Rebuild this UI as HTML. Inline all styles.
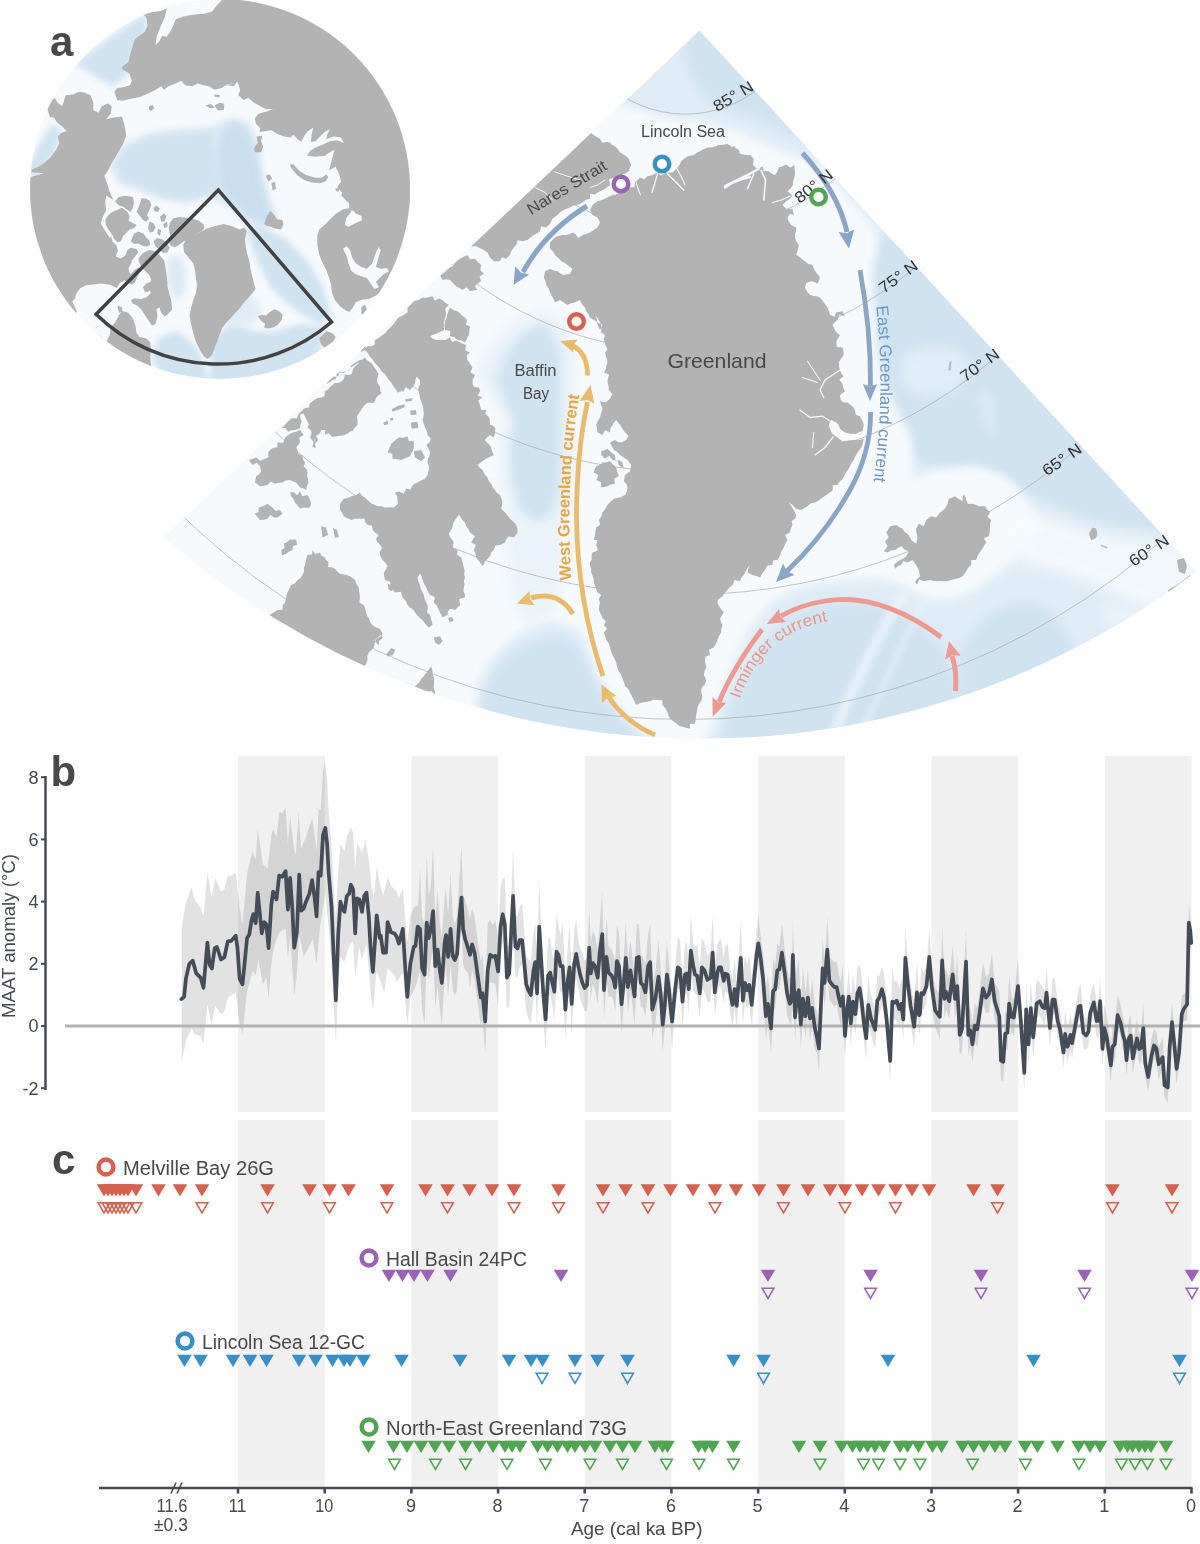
<!DOCTYPE html><html><head><meta charset="utf-8"><title>Figure</title>
<style>html,body{margin:0;padding:0;background:#fff}svg{display:block}text{font-family:"Liberation Sans", sans-serif}</style></head><body>
<svg width="1200" height="1544" viewBox="0 0 1200 1544">
<rect width="1200" height="1544" fill="#fff"/>
<defs>
<clipPath id="fan"><path d="M699.5 30.5 L164 537 A816.3 816.3 0 0 0 1196.3 571.5 Z"/></clipPath>
<clipPath id="circ"><circle cx="220" cy="189" r="190"/></clipPath>
<filter id="b6" x="-20%" y="-20%" width="140%" height="140%"><feGaussianBlur stdDeviation="6"/></filter>
<filter id="b10" x="-20%" y="-20%" width="140%" height="140%"><feGaussianBlur stdDeviation="10"/></filter>
<filter id="b4" x="-20%" y="-20%" width="140%" height="140%"><feGaussianBlur stdDeviation="4"/></filter>
<filter id="b3" x="-20%" y="-20%" width="140%" height="140%"><feGaussianBlur stdDeviation="3"/></filter>
</defs>
<g clip-path="url(#fan)">
<path d="M699.5 30.5 L164 537 A816.3 816.3 0 0 0 1196.3 571.5 Z" fill="#f4f8fc"/>
<path d="M699.5 30.5 L164 537 A816.3 816.3 0 0 0 1196.3 571.5 Z" fill="#dfecf6"/>
<path d="M699.5 0 L850 160 L800 140 L775 126 L750 116 L725 108 L705 98 L692 78 L684 50 L680 30Z" fill="#cfe3f1" filter="url(#b6)" opacity="1"/>
<path d="M905 225 L880 240 L868 252 L865 270 L865 300 L868 335 L875 370 L885 400 L900 430 L912 455 L930 468 L960 470 L990 472 L1015 485 L1040 500 L1070 512 L1100 522 L1140 528 L1175 535 L1250 570 L1250 400 L1000 250Z" fill="#cfe3f1" filter="url(#b4)" opacity="1"/>
<path d="M898 356 L930 344 L962 350 L972 368 L958 392 L925 400 L902 388Z" fill="#eaf3fa" filter="url(#b6)" opacity="0.6"/>
<path d="M975 395 L988 388 L996 402 L996 436 L985 430Z" fill="#eaf3fa" filter="url(#b3)" opacity="0.4"/>
<path d="M480 760 L482 700 L492 672 L512 652 L535 640 L560 636 L580 646 L590 670 L606 702 L632 730 L660 760Z" fill="#cfe3f1" filter="url(#b6)" opacity="1"/>
<path d="M715 770 L728 712 L742 680 L758 652 L780 626 L805 610 L835 602 L870 604 L900 612 L925 630 L945 650 L960 690 L985 720 L900 780Z" fill="#cfe3f1" filter="url(#b6)" opacity="1"/>
<path d="M960 650 L985 618 L1010 604 L1040 604 L1060 624 L1078 655 L1090 690 L1060 720 L1000 740 L960 720Z" fill="#cfe3f1" filter="url(#b6)" opacity="1"/>
<path d="M1090 650 L1120 628 L1150 632 L1172 645 L1135 672 L1100 680Z" fill="#cfe3f1" filter="url(#b6)" opacity="0.7"/>
<path d="M905 592 L872 650 L848 700 L828 750" stroke="#eaf3fa" stroke-width="10" fill="none" filter="url(#b3)" opacity="0.9"/>
<path d="M925 600 L895 660 L872 710 L855 750" stroke="#eaf3fa" stroke-width="6" fill="none" filter="url(#b3)" opacity="0.7"/>
<path d="M560 60 L600 100 L640 110 L660 117 L680 121 L700 121 L720 127 L740 131 L757 141 L787 153 L820 163 L840 188 L860 211 L875 231 L878 246 L873 266 L873 290 L875 320 L878 350 L884 380 L892 400 L902 420 L912 440 L912 460 L912 478 L935 470 L975 466 L1005 476 L1025 498 L1040 520 L1030 548 L1000 572 L975 590 L950 600 L925 598 L905 586 L880 578 L850 580 L820 583 L795 588 L770 603 L750 628 L735 658 L722 693 L712 728 L700 748 L650 740 L625 714 L602 682 L590 652 L580 630 L552 620 L530 626 L510 640 L490 660 L478 682 L473 730 L300 700 L100 540Z" fill="#f6fafd" filter="url(#b4)" opacity="1"/>
<path d="M1015 508 L1060 522 L1100 536 L1140 541 L1175 546 L1230 572 L1230 615 L1170 612 L1130 602 L1100 586 L1060 572 L1020 562Z" fill="#f6fafd" filter="url(#b6)" opacity="0.85"/>
<path d="M1100 600 L1150 610 L1200 600 L1200 640 L1150 660 L1110 640Z" fill="#eaf3fa" filter="url(#b6)" opacity="0.8"/>
<path d="M546.5 308.3 L567.4 325 L575 352.4 L575 392.1 L572.7 428.7 L575 474.4 L570.3 511 L556 532.4 L537 535.4 L513.3 523.2 L500.9 489.7 L499 450 L503.8 419.5 L487.2 392.1 L475.3 373.8 L489.5 346.3 L513.3 321.9Z" fill="#eaf3fa" filter="url(#b6)" opacity="1"/>
<path d="M512 500 L560 500 L566 560 L556 612 L530 628 L512 600 L506 550Z" fill="#eaf3fa" filter="url(#b6)" opacity="1"/>
<path d="M543.3 319.5 L559.2 334.5 L565 359.3 L565 395 L563.3 428 L565 469.3 L561.4 502.3 L550.5 521.5 L536 524.3 L517.9 513.3 L508.5 483 L507 447.3 L510.6 419.8 L498 395 L488.9 378.5 L499.8 353.8 L517.9 331.8Z" fill="#dfecf6" filter="url(#b3)" opacity="1"/>
<path d="M540.9 326 L553.2 340.1 L557.7 363.3 L557.7 396.8 L556.3 427.7 L557.7 466.3 L554.9 497.2 L546.5 515.2 L535.3 517.8 L521.3 507.5 L514 479.2 L512.9 445.7 L515.7 419.9 L505.9 396.8 L498.9 381.3 L507.3 358.1 L521.3 337.5Z" fill="#cfe3f1" filter="url(#b3)" opacity="1"/>
</g>
<g clip-path="url(#fan)" fill="none" stroke="#a6a6a6" stroke-width="0.65">
<circle cx="685.4" cy="-3.7" r="117.8"/>
<circle cx="685.4" cy="-3.7" r="236.1"/>
<circle cx="685.4" cy="-3.7" r="355.3"/>
<circle cx="685.4" cy="-3.7" r="475.9"/>
<circle cx="685.4" cy="-3.7" r="598.4"/>
<circle cx="685.4" cy="-3.7" r="723.2"/>
</g>
<g fill="#b3b3b3" clip-path="url(#fan)"><path d="M600 330 L602.4 325 L597.5 322.5 L593.8 319.9 L590 317.5 L588.4 314.2 L586.3 311.2 L585.1 307.7 L582.5 305 L580 300 L575 302.5 L571.1 303.2 L567.5 305 L563.7 302.6 L560 300 L555 302.5 L553.6 299 L551.7 295.8 L550 292.5 L548.7 288.5 L546.2 285 L545.4 281.1 L543.8 277.5 L545 271.2 L550 268.8 L553.6 270.5 L557.5 271.2 L560.4 273.6 L563.8 275 L570 273.8 L572.5 268.8 L567.5 265 L564.5 262.8 L561.2 261.2 L558.4 257.9 L555 255 L553.1 251.4 L550 248.8 L550 242.5 L552.6 240.1 L555 237.5 L558.6 235.8 L562.5 235 L566 235 L569.4 234.2 L572.5 232.5 L575.6 234.1 L578.2 237.9 L582.5 235 L586.3 233.9 L590 232.5 L593.7 230 L597.5 227.5 L600 222.5 L597.5 217.5 L592.5 215 L590 210 L592.5 205 L597.5 201.2 L601.3 200.3 L605 198.8 L608.7 196.7 L612.5 195 L616.5 194.5 L620 192.5 L625 190 L630 187.5 L634.5 187 L635 182.5 L637.4 179.9 L640 177.5 L644.1 179.3 L647.5 176.2 L652.5 175 L657.5 172.5 L660.8 175.6 L664.2 173.4 L667.5 172.5 L672.5 172.5 L675.1 170.1 L677.5 167.5 L679.8 164.6 L681.2 161.2 L684.3 158.6 L687.5 156.2 L693.8 155 L696.7 152.8 L700 151.2 L703.7 149.2 L707.5 147.5 L711 147.2 L715.1 149.4 L717.5 145 L721.2 147.4 L724.2 144.5 L727.5 143.8 L730.5 147.3 L735 146.2 L736.2 151.2 L739.4 153 L742.5 155 L739.5 152 L736 154.5 L732.8 153.3 L729.5 153.4 L726.2 152.7 L722.9 153.4 L719.8 150.5 L716.3 153 L713.1 152.5 L709.8 152.3 L706.6 151.6 L703.2 152 L700 151.2 L703.5 150.3 L706.5 148.3 L710 147.5 L713.4 146.9 L716.7 145.9 L720 145 L723.3 144.7 L726.7 144.7 L730 145 L732.7 148.9 L737.5 148.8 L741.2 153.8 L745.6 154.9 L750 155 L753.8 158.8 L753 165 L755.5 167.4 L758.8 168.8 L762.5 166.2 L763.8 171 L768.8 171.2 L771.5 173.8 L775 175 L777.4 171.5 L778.8 167.5 L782.6 166.3 L786.2 164.5 L790.2 167.4 L794.5 165 L794.7 169.4 L795 173.8 L794.4 177.5 L793.1 181.1 L793 185 L790.5 188.4 L787.5 191.2 L790.1 193.6 L792.5 196.2 L789.5 198.9 L786.2 201.2 L782.5 205 L786.2 208.8 L792.5 208.8 L793.8 215 L789.8 214.1 L787.5 217.5 L788.7 221.6 L791.2 225 L796.2 227.5 L796.2 230.9 L795 234.1 L795 237.5 L796.3 241.5 L798.8 245 L798.2 248.4 L797.3 251.7 L796.2 255 L799.4 256.8 L802 259.3 L805 261.2 L808.4 263.9 L812.5 265 L814.1 268.9 L816.2 272.5 L820 277.5 L818.9 280.7 L817.5 283.8 L814.5 282.1 L811.2 281.2 L806.5 282.7 L805 287.5 L806.9 291.6 L810 295 L813.3 296 L816.8 296.3 L820 297.5 L823.8 302.5 L827.5 307.5 L828.9 311.2 L830 315 L834.3 316.7 L836.2 312.5 L842.5 311.2 L845 316.2 L839.5 314.6 L837.5 320 L834.8 322.3 L832.5 325 L835 330 L835 330 L836.9 333.1 L840 335 L838.3 338.2 L836.2 341.2 L836.9 346.9 L842.5 347.5 L843.4 351.2 L843.8 355 L841 358.6 L838.8 362.5 L839.1 366.3 L840 370 L841.4 373.4 L843.8 376.2 L839.3 379.4 L842.5 383.8 L843.1 387.7 L845 391.2 L840 395 L840.6 399.4 L842.8 402.2 L847.5 402.5 L850.7 405 L853.8 407.5 L855.2 410.9 L855.8 414.8 L860 416.2 L862.3 420.4 L863.8 425 L862.5 431.2 L859.2 432 L856.2 433.8 L850 433.8 L845 432.5 L840 428.8 L838.9 425.2 L836.2 422.5 L831.2 420 L829.5 422.9 L828.8 426.2 L830.4 429.2 L831.4 432.4 L833.8 435 L836.7 437.1 L839.6 439.2 L842.5 441.2 L846.7 440.8 L850.8 440.2 L855 440 L859.4 439.9 L863.8 438.8 L862.5 445 L860.3 448.9 L857.5 452.5 L855.4 456.2 L853.8 460 L851.6 462.6 L850.2 465.7 L848.8 468.8 L846.7 471.4 L844.8 474.2 L843.8 477.5 L841.6 480 L839 482 L837.5 485 L832.7 485.2 L832.8 490.3 L830 492.5 L826.3 495 L822.5 497.5 L818.9 500.3 L815 502.5 L810.8 503.6 L807.5 506.2 L804.3 508 L801.2 510 L796.2 508.8 L792.5 505 L788.8 502.5 L791.3 506.2 L793.8 510 L796.2 515 L795.4 518.5 L791.6 520.9 L792.5 525 L790.9 528.6 L790 532.5 L785 535 L787.5 540 L785.2 543.5 L783.8 547.5 L781.5 551.1 L780 555 L782.5 552.5 L779.8 556.1 L777.5 560 L773 560.5 L772.5 565 L767.4 565.5 L765 570 L762.3 573.6 L760 577.5 L756.3 576.1 L752.5 575 L747.5 572.5 L748.4 568.6 L750 565 L747.5 568.1 L745.5 571.4 L743.8 575 L741.2 577.7 L740 581.2 L734.7 580 L732.5 585 L729.7 587.2 L727.5 590 L724.8 593 L722.5 596.2 L717.5 600 L717.9 604 L720 607.5 L723.8 612.5 L721.8 615.6 L720 618.8 L721 622 L722.5 625 L721.4 628.7 L721.2 632.5 L719 636 L717.5 640 L715.9 643.9 L713.8 647.5 L708.9 649.8 L710 655 L705.5 656.6 L705 661.2 L706.2 667.5 L704.6 671.1 L703.8 675 L705.4 678 L706.2 681.2 L704.8 684.3 L702.2 686.7 L701.2 690 L701.6 693.8 L702.5 697.5 L701.1 701 L698.9 704 L697.5 707.5 L697 711.3 L696.2 715 L695.7 719.4 L695 723.8 L689.9 723.7 L690 728.8 L685 727.5 L680 726.2 L675 722.5 L670 718.8 L668.6 715.7 L667.5 712.5 L665.5 708.4 L662.5 705 L662.3 700.2 L657.5 700 L653.6 699.8 L650 701.2 L646.3 702 L642.5 702.5 L639.3 703.6 L636.2 705 L633.8 700 L631.8 696.3 L630 692.5 L628.2 688.8 L625 686.2 L624 682.4 L622.5 678.8 L621 674.8 L618.8 671.2 L617.1 667 L616.2 662.5 L614.5 658.7 L612.5 655 L611 651.3 L610 647.5 L608.8 643.4 L606.2 640 L605.3 636.2 L603.8 632.5 L607.2 628.8 L603.8 625 L605.9 620.9 L602.5 618.2 L601.2 615 L598.8 610 L599.1 606.2 L600 602.5 L598.7 599.3 L601.2 595.1 L597.5 592.5 L596.2 589.2 L595 585.8 L593.8 582.5 L593.7 579 L592.6 575.7 L591.2 572.5 L591.1 569.1 L590 565.9 L590 562.5 L591.6 559.4 L591.6 555.8 L592.5 552.5 L597.8 550.5 L596.2 545 L597.5 540 L593.8 540 L595 535 L595.4 531.2 L596.2 527.5 L600.3 524.7 L598.8 520 L601.4 516.6 L602.5 512.5 L605.2 508.9 L607.5 505 L610.4 501.7 L613.8 498.8 L620 497.5 L625 495 L626.9 491.5 L627.5 487.5 L626.4 483.9 L623.8 481.2 L625 475 L630 471.2 L631.2 465 L627.5 460 L623.8 457.5 L620 455 L617.4 451.9 L613.8 450 L611.9 446.3 L610 442.5 L615 440 L617.9 441.9 L621.2 442.5 L626.2 440 L628.5 435.8 L625 432.5 L622.5 428.8 L620 425 L616.2 420 L612.5 425 L610.4 428.5 L610 432.5 L605 430.1 L602.5 435 L597.5 432.5 L597.1 428.7 L596.2 425 L597.8 421.1 L600 417.5 L601.1 413.1 L602.5 408.8 L601.2 405 L600 401.2 L605 402.5 L610 398.8 L612.5 393.9 L608.8 390 L608.6 386.6 L607.8 383.3 L607.5 380 L609.1 374.5 L603.8 372.5 L605.8 369.5 L606.4 365.9 L607.5 362.5 L607 359.1 L605.7 355.9 L605 352.5 L607.6 349.2 L605.5 345.8 L605 342.5 L603.6 339.2 L605 334.9 L601.2 332.5 L601.2 329.1 L601.2 325.7 L600 322.5 L597.9 318.5 L595 315 L596.7 318.6 L597 322.7 L598.3 326.4Z"/><path d="M602.5 462.5 L606.3 462.2 L610 461.2 L613 464.5 L616.2 467.5 L617.2 472 L618.8 476.2 L614.1 478.6 L615 483.8 L611.1 484.4 L607.5 486.2 L601.2 487.5 L601 482.2 L596.2 480 L598.4 475.1 L593.8 472.5 L594.6 469.2 L596.2 466.2 L599.8 465.1Z"/><path d="M601.2 451.2 L604.5 450.3 L607.5 448.8 L609.9 451 L612.3 453.2 L615 455 L615.3 459.7 L619.6 460.4 L622.5 462.5 L623.8 468.8 L618.8 465 L617.3 460.4 L612.5 460 L609.3 455.8 L605 458.8 L601.2 455Z"/><path d="M585 125 L584.6 129.7 L587.1 132 L591.1 132.9 L593.8 135 L596.8 137 L600 138.8 L602.3 142.8 L606.4 141.9 L610 142.5 L612.1 145 L615.2 146.5 L617.5 148.8 L619.5 151.7 L622.5 153.8 L625.9 156 L628.8 158.8 L629.8 161.9 L631.2 165 L629.7 168 L628.8 171.2 L625 173.8 L621.6 174.7 L618.5 176.7 L615 177.5 L609.3 179.1 L610 185 L605 188.8 L601.3 190.7 L597.5 192.5 L594.9 194.4 L590.1 193.8 L590 198.8 L585.9 199.9 L582.5 202.5 L579.5 204.1 L576.2 205 L572.9 205.7 L570 207.5 L566.9 208.8 L563.8 210 L560.3 212.1 L557.5 215 L552.5 218.8 L550 223.8 L546.2 227.5 L541.2 226.2 L540 231.2 L537.1 233.5 L533.8 235 L530.6 237.5 L527.5 240 L522.5 241.2 L517.7 240.3 L516.2 245 L513.5 248 L511.2 251.2 L510 255 L506.2 258.8 L502 257.2 L500 261.2 L493.8 261.2 L490 257.5 L487.5 252.5 L483.8 250 L478.8 247.5 L475.5 246.1 L471.8 246.7 L468.5 245.3 L465 245 L466.1 241.1 L465.8 237.7 L464.9 234.5 L463.3 231.6 L458.8 229.8 L461.6 225.2 L456.6 223.6 L456.6 220.1 L455.3 217 L453.9 214.1 L453.1 210.9 L451.8 207.8 L450 205 L452 202.5 L453.6 199.6 L458.8 199.6 L458.1 195 L459.5 192.1 L462.2 190.1 L463.5 187 L467.4 186 L467.7 182.2 L469.6 179.6 L471 176.7 L475.1 175.8 L475.7 172.2 L477 169.2 L480.6 167.9 L481.1 164.2 L483.3 161.9 L485.3 159.3 L486.4 156.2 L491.3 155.8 L492.1 152.5 L492 148.4 L494.1 145.9 L495.8 143.2 L498 140.9 L499.7 138.1 L502.3 136.1 L505.6 134.5 L506.2 130.9 L508 128.3 L512.4 127.6 L513.6 124.5 L513.6 120.5 L515.3 117.8 L517.2 115.2 L519.3 112.8 L521.6 110.5 L523.6 108 L525 105 L528 106.5 L531.2 107.4 L533.3 111.8 L537.4 109.8 L540.9 109.8 L542.8 114.9 L546.9 113.1 L550.3 113.3 L553.3 114.8 L556.5 115.7 L559.7 116.8 L562.9 117.6 L566 118.8 L569.3 119.4 L572.4 120.8 L575.3 122.4 L578.6 123 L581.6 124.5Z"/><path d="M440 275 L443.7 273 L446.8 270.2 L450 267.5 L453.1 266 L454.8 262.9 L457.4 260.8 L460 258.8 L463.7 256.8 L467.5 255 L470 259.3 L475 258.8 L477.9 262.1 L481.2 265 L480.3 270 L483.8 273.8 L479.5 276.5 L481.2 281.2 L477.8 283.3 L475 286.2 L477.5 290 L473.7 290.5 L470 291.2 L466.8 287.2 L462.5 290 L459.4 288.1 L456.2 286.2 L453.1 283.2 L450 280 L446.2 279.3 L442.5 280Z"/><path d="M450 307.5 L453.5 309.9 L457.5 311.2 L460.1 313.3 L462.2 315.8 L465 317.5 L467 320.2 L465.9 324.7 L470 326.2 L469.5 330.6 L468.8 335 L466.9 338.8 L465 342.5 L461.5 340.5 L457.5 340 L454.2 337.3 L450 336.2 L450.3 330.9 L445 330 L444.7 325.6 L445 321.2 L446.5 317.6 L447.5 313.8 L448.6 310.5Z"/><path d="M363.8 350 L367.5 346.2 L371.8 346.3 L374.6 344.6 L375 340 L378.9 337.7 L382.5 335 L385.5 333 L387.5 330 L390.7 327 L393.8 323.8 L396 320.4 L398.8 317.5 L403.8 315 L407.6 312.3 L407.5 307.5 L410.8 304.5 L413.8 301.2 L418.4 300 L422.5 297.5 L425.9 297.9 L429.2 297.1 L432.5 296.2 L434.7 300.6 L439.3 298.5 L442.5 300 L445.3 302.8 L448.8 305 L445.2 308.7 L446.2 313.8 L445.1 318.1 L443.8 322.5 L444.2 326.2 L443.8 330 L440 331.9 L436.2 333.8 L433 334.8 L430 336.2 L432.8 338.7 L436.2 340 L440.6 339.8 L445 340 L450 337.5 L451.9 342.1 L456.8 340.6 L460 342.5 L463 344.1 L466.2 345 L465.2 350.2 L470 352.5 L466.7 355.6 L467.5 360 L470.1 363.7 L472.5 367.5 L470.4 372.4 L475 375 L472.5 380 L472.7 384.1 L474.1 387.1 L478.8 387.5 L480.3 390.7 L477.8 395.4 L482.5 397.5 L478.4 400.3 L480 405 L481.2 410 L486.2 410 L485.4 414.1 L488.6 416.7 L490 420 L490 420 L489.7 424.2 L493.4 426 L495.5 428.8 L494.9 433.2 L493.8 437.5 L490 435 L487.3 437.3 L485 440 L487 442.6 L489.4 444.8 L491.2 447.5 L492 451.4 L493.8 455 L488.8 457.5 L485.4 459 L482.5 461.2 L477.5 465 L479.8 467.7 L482.5 470 L484.5 474.1 L487.5 477.5 L488.8 481 L491.2 483.8 L492.5 487.2 L495 490 L497 493 L500 495 L501.5 498.7 L502.5 502.5 L501.2 508.8 L503.8 511.2 L506.2 513.8 L510 518.8 L513.3 521.7 L516.2 525 L517.3 528.7 L517.5 532.5 L513.8 537.5 L508.8 536.2 L506.3 539 L505 542.5 L500 545 L495.4 545.6 L493.8 550 L491.1 552.7 L490 556.2 L487.6 558.8 L485 561.2 L483 566.2 L480 562.5 L476.2 557.5 L475.5 553.6 L473.8 550 L475.9 545.1 L471.2 542.5 L472.9 539.2 L475 536.2 L470 532.5 L468.5 529.2 L466.2 526.2 L465 522.8 L462.5 520 L458.8 515 L455 520 L453.2 523.6 L452.5 527.5 L450.6 530.6 L448.8 533.8 L449.9 537 L452.1 539.6 L453.8 542.5 L452.6 547.8 L457.5 550 L457.2 554.8 L461.2 557.5 L462 560.8 L463.1 564.1 L463.8 567.5 L464.6 570.8 L464.1 574.2 L465 577.5 L463.9 580.7 L464.5 584.2 L463.8 587.5 L463.4 590.9 L464.9 594.1 L465 597.5 L459.3 599.1 L460 605 L457.6 607.6 L455 610 L450 608.8 L447.9 611.6 L447.5 615 L442.5 617.5 L440.6 613.8 L438.8 610 L436.9 605.8 L433.8 602.5 L434.9 597.3 L430 595 L427.7 591.4 L426.2 587.5 L424.1 583.9 L422.5 580 L421.6 576.7 L420 573.8 L417.5 577.5 L418.4 581.4 L420 585 L420.6 588.6 L422.4 591.7 L423.8 595 L424.5 598.5 L425.9 601.8 L427.5 605 L427.9 608.4 L426.8 612.3 L430 615 L430.8 618.3 L431.9 621.6 L432.5 625 L428.8 627.5 L426.4 625.2 L424.5 622.6 L422.5 620 L419.7 617.8 L417.2 615.3 L415 612.5 L412.9 609.6 L410 607.5 L407.5 605 L405.7 600.8 L402.5 597.5 L400.9 591.8 L395 592.5 L392.8 589.7 L390 587.5 L390.3 581.9 L385 580 L384.1 576.3 L383.8 572.5 L385.7 569.4 L387.5 566.2 L385.5 562.7 L382.5 560 L380 555 L379.8 551.7 L382 547.8 L380.1 544.9 L377.1 542.1 L376.1 539 L378.4 535.1 L375 532.5 L372.6 529.9 L371.9 525.6 L367.5 525 L365.4 522.5 L364.4 518.6 L360 518.8 L355.5 518.7 L351.2 520 L347.4 518.3 L343.8 516.2 L342.3 512.9 L340 510 L340 503.8 L343.8 498.8 L347.7 498.1 L351.2 496.2 L355.9 495 L360 492.5 L361.9 495.6 L365 497.5 L367.5 500 L370.8 503.2 L375 505 L378.2 506.2 L381.7 506.3 L385 507.5 L389.4 507.2 L393.8 507.5 L397.8 504.1 L397.4 500.2 L397.2 496.5 L395 492.5 L398.8 491.4 L403.7 493.6 L406.2 488.8 L410.4 489.5 L412.1 486.1 L414.5 483.8 L417.5 482.5 L421.1 480.4 L425 478.8 L427.6 474.7 L428.8 470 L428.8 466.1 L427.5 462.5 L427.9 459.1 L429.3 455.9 L430 452.5 L428.5 448.6 L426.2 445 L429.6 442 L430.9 438.8 L427.5 435 L426.8 431.1 L425 427.5 L423.8 423.7 L422.5 420 L423.5 416.7 L423.8 413.4 L423.2 410 L423.3 406.7 L421.5 402.6 L420 398.3 L419.4 394.1 L418.3 390 L418.9 386.7 L420.1 383.4 L420 380 L416.7 376.7 L415.4 379.9 L415 383.3 L412.8 386.9 L410 390 L405.8 387.2 L403.3 391.7 L400.1 390.5 L396.7 390 L393.8 387 L391.7 383.3 L389 380.1 L386.7 376.7 L384.6 373.8 L381.7 371.7 L379.8 368.6 L377.7 365.7 L375 363.3 L372.8 359.8 L370 356.7 L367.8 353.1 L365 350 L362 351.4 L357.9 350.2 L355.7 353.2 L352.8 354.8 L350 356.7 L352.5 354.6 L353.6 351.4 L358.4 351 L357.9 346.6 L361.8 345.5 L363.4 342.7 L363.2 338.5 L365.8 336.5 L367.8 334 L369.3 331.1 L370.9 328.3 L374.8 327.2 L375.5 323.7 L376.9 320.7 L379.2 318.5 L380.6 315.5 L382.7 313.1 L384.3 310.3 L388.9 309.8 L391.1 307.4 L390.2 302.6 L392.5 300.4 L394.6 298 L396.2 295.2 L398.4 292.8 L400 290 L397.6 292.4 L396 295.4 L395.1 298.8 L393.3 301.6 L391.2 304.2 L389.4 307 L385.3 308.4 L386.6 313.1 L383.9 315.4 L382.2 318.2 L380.6 321.2 L379.5 324.4 L377.4 327.1 L375.4 329.8 L374.2 332.9 L371.9 335.4 L370 338.2 L369.1 341.5 L365.2 343.1 L365.8 347.4Z"/><path d="M365 358.3 L362.3 360.1 L360 362.4 L357.4 364.3 L354.8 366.4 L353 369.2 L352.1 373.3 L349.5 375.1 L344.8 374.6 L344 378.6 L341.9 381.3 L339 382.8 L334.9 383 L332.5 385.1 L329.9 387.1 L328 389.8 L324.9 391.2 L324.6 395.9 L321.8 397.6 L317.9 397.9 L315 399.5 L312.4 401.5 L309.8 403.4 L309 407.6 L305.2 407.9 L302.6 409.9 L300.4 412.3 L298 414.5 L297 418.5 L292.5 418.1 L289.9 420 L287.4 422 L285.3 424.6 L283 426.9 L280 428.3 L285.1 427.7 L288.3 431.7 L291.5 430.2 L295 430 L300 428.3 L300.3 424.9 L301.7 421.7 L300.6 418.4 L300 415 L303.3 413.3 L305 416.6 L306.7 420 L308.7 424 L310 428.3 L312.4 431.3 L313.3 435 L315 440 L313.3 443.2 L312.5 446.7 L315.8 448.3 L315 443.5 L318.3 440 L315.9 435.9 L320 433.3 L321.2 430.1 L321.7 426.7 L321.9 423.3 L322.1 419.9 L323.3 416.7 L327.1 419.8 L325.2 424.1 L329.3 427.1 L326.7 431.7 L329.8 433.5 L331.7 436.7 L335.9 436.5 L340 435.8 L344.3 435 L348.3 433.3 L350.8 430.8 L353.3 428.3 L356.7 423.3 L357.1 420 L356.7 416.7 L360 411.7 L363.3 406.7 L366.7 403.3 L370 402.5 L373.3 403.3 L375.3 400.2 L376.7 396.7 L381.7 393.3 L380 390.2 L380 386.7 L377.8 383.6 L376.7 380 L377.9 376.8 L378.3 373.3 L375 368.3 L371.7 363.3 L366.7 360 L365 357.5 L362.5 359.6 L359.1 360.2 L356.4 362 L353.8 363.8 L351.1 365.6 L349.5 369.5 L346.8 371.3 L343.5 372 L339.7 371.8 L338.3 375.9 L335.1 376.7 L330.9 375.9 L328.1 377.4 L325.5 379.3 L322.2 380.1 L320.9 384.4 L316.7 383.3 L314.1 385.5 L313.3 389.5 L309.1 389.8 L306.4 391.7 L304.7 394.7 L301.5 396.2 L299.3 398.7 L296.8 400.9 L294.6 403.3 L294.2 408 L289.2 407.2 L288.3 411.3 L286.5 414.2 L283.2 415.4 L279.5 416.2 L279.1 420.8 L274.5 420.5 L274 425 L269.2 424.6 L266.7 426.7 L269.3 424.8 L269.9 420 L274.2 420.5 L277.3 419.2 L279.8 417.2 L282.3 415.1 L285.4 413.9 L287.6 411.4 L290.2 409.5 L292.9 407.7 L293.7 403.2 L298.6 404.6 L301.4 403 L303.7 400.6 L306.5 398.9 L308.8 396.6 L311.9 395.4 L312.9 391 L316.7 390.9 L317.7 386.7 L322.1 387.4 L323.1 383 L327.4 383.6 L330.2 382 L332.7 379.9 L336 379 L336.6 374.2 L339.1 372.1 L343.7 373 L346.5 371.4 L349 369.3 L351.4 367.1 L354.3 365.6 L356.8 363.6 L360 362.4 L362.2 360Z"/><path d="M391.7 409.2 L398.3 405.8 L405 404.2 L404.2 407.5 L397.5 410 L392.5 411.7Z"/><path d="M405 399.2 L412.5 398 L412 400.7 L405.8 401.7Z"/><path d="M410 410.8 L415.8 410 L416.7 414.7 L410.8 415.3Z"/><path d="M410.8 422.5 L417.5 421.7 L418.3 428 L411.7 428.7Z"/><path d="M383.3 422.5 L387.5 420.8 L388.3 424.2 L384.2 425.3Z"/><path d="M390 418.3 L393 417.5 L393.3 420.3 L390.5 420.8Z"/><path d="M395 388.3 L400 385.8 L402.5 390.8 L397.5 392.5Z"/><path d="M248.8 460 L252.6 458.9 L256.2 457.5 L260.2 460.9 L265 458.8 L268.6 456.9 L268 452.8 L270 450 L272.9 447.9 L277.3 447.3 L277.5 442.5 L283.2 443 L285 437.5 L288.6 434.8 L292.5 432.5 L296.4 431.7 L300 430 L303.8 435 L299.3 437.5 L300 442.5 L296.2 447.5 L297.7 450.5 L298.4 454.2 L302.5 455 L302.9 459 L305 462.5 L303.6 466.4 L306.7 469.2 L307.5 472.5 L307.2 475.9 L307.9 479.2 L308.8 482.5 L307 486.1 L306.2 490 L303.3 488.4 L300 487.5 L296.2 482.5 L293 481.6 L290 480 L286 480.5 L282.5 482.5 L278.7 482.8 L275 483.8 L270.7 481.4 L267.5 485 L263.8 485.7 L260 486.2 L255 482.5 L256.2 476.2 L259.2 474.2 L261.2 471.2 L260 466.2 L256.7 462.7 L252.5 465Z"/><path d="M290 492.5 L293.3 491.9 L297.1 494.9 L300 491.2 L302.2 496.3 L307.5 495 L309.8 499.2 L311.2 503.8 L310 507.5 L306.6 507.7 L303.2 507.5 L300 508.8 L297.6 505.6 L295 502.5 L293.6 499.1 L291.2 496.2Z"/><path d="M307.5 427.5 L309.1 423.9 L310 420 L311.6 416.6 L314 413.7 L315 410 L318.3 409.8 L321.7 410.4 L325 410.9 L328.3 410.1 L331.7 410.4 L335 409.9 L338.3 409.6 L341.7 410.5 L345 410.7 L348.3 410.3 L351.7 409.7 L355 410 L352 414.3 L356.9 416.6 L357.5 420 L357.5 425 L354.6 427.8 L352.5 431.2 L347.5 430.7 L345 435 L341.7 435.5 L337.9 432.8 L335 436.2 L331.7 435.8 L328.6 433.1 L325 435 L325.1 429.9 L320 430 L316.2 435 L314.7 438.7 L313.8 442.5 L310 437.5 L311.5 433.6 L311 430.2Z"/><path d="M387.5 452.5 L389.4 448.1 L391.2 443.8 L393.7 441.6 L396.2 439.6 L398.8 437.5 L403.2 437.7 L407.5 436.2 L408.8 441.1 L413.8 441.2 L413.8 445 L413.8 448.8 L411.9 452.5 L410 456.2 L405.6 458 L401.2 460 L396.9 459.3 L392.5 458.8 L392.3 453.8Z"/><path d="M413.8 451.2 L421.2 450 L425 457.5 L421.2 461.2 L415 457.5Z"/><path d="M254.5 513.8 L258.6 512 L258.8 507.5 L263.3 506 L267.5 503.8 L272.5 507.5 L275.5 511 L280 510 L282.5 513.8 L277.5 517.5 L274.1 517.4 L270.4 514.9 L267.5 518.8 L263.8 519.7 L260 520 L257.3 516.8Z"/><path d="M281.2 550 L284.7 547.8 L283.8 543.8 L287.1 542 L290 539.5 L296.2 539.5 L297 545 L293 545.9 L292.5 550 L289.1 551.4 L286.2 553.8 L282 555.5Z"/><path d="M321.2 526.2 L326.2 527.5 L328 535 L322.5 537.5Z"/><path d="M333 528 L337 530 L339 537 L335 538Z"/><path d="M255 625 L258.3 623 L261.2 620.6 L264.6 618.8 L267.5 616.2 L270.8 614.2 L274.1 612.1 L277.5 610 L282.3 609.8 L282.8 605.3 L285 602.5 L285.8 599.2 L286.4 595.8 L287.5 592.5 L289.3 588.7 L291.2 585 L294.9 583.2 L297.5 580 L300.6 578.1 L302.5 575 L303.9 571.8 L303.9 568.3 L305 565 L305.7 561.6 L306.4 558.3 L307.5 555 L312 554.5 L312.5 550 L315.3 554 L320 552.5 L321.4 555.6 L324.4 557.3 L326.2 560 L328.6 562.2 L327.9 567.1 L332.5 567.5 L335.3 569.2 L337.4 571.7 L340 573.8 L343.4 574.3 L346.8 575.1 L350 576.2 L355 580 L356.5 583.9 L358.8 587.5 L359.1 590.8 L359.6 594.2 L360 597.5 L359.3 602.5 L363.8 605 L365.3 608.7 L366.2 612.5 L367.1 616 L369.2 618.8 L370.3 622.2 L372.5 625 L376 627.4 L380 628.8 L382.5 633.8 L377.5 637.5 L374.9 641.8 L378.8 645 L378.9 641.2 L383 637.8 L379.8 633.8 L380 630 L382.5 635 L378.8 637.6 L375 640 L374.7 643.8 L373.8 647.5 L371.5 650.2 L368.8 652.5 L367.3 656.1 L367.5 660 L366.2 663.5 L364.4 666.8 L362.5 670 L360.7 672.7 L358.7 675.2 L356.5 677.6 L353.8 679.5 L351.9 682.1 L350.1 684.8 L346.5 686.1 L343.9 688.1 L343.6 692 L340.3 693.5 L339.9 697.3 L336 698.2 L335.6 702.1 L333.5 704.5 L331.4 707 L330 710 L327 708.6 L325.8 703.8 L321.3 705.3 L318.4 703.8 L315.5 702.2 L312.2 701.4 L309.4 699.6 L307.8 695.5 L303.6 696.6 L300.8 694.8 L299.2 690.8 L294.9 692 L291.7 691 L290.4 686.2 L285.8 688 L283.2 686 L281.3 682.3 L278.6 680.4 L275.8 678.8 L271.3 680.4 L268.2 679.2 L265.2 677.9 L262.5 675.9 L259.4 674.7 L256.7 672.7 L253.3 672.2 L250.5 670.5 L247.8 668.5 L244.9 667 L241.7 666.1 L238.6 664.8 L237.1 660.5 L234.2 658.9 L230 660 L232 657.3 L233.8 654.6 L236.5 652.4 L238.2 649.6 L242.7 648.8 L241.5 643.8 L243.5 641.2 L247.2 639.7 L247.1 635.6 L248.9 632.9 L251.9 630.9 L253.6 628Z"/><path d="M433.8 637.5 L440 636.2 L442.5 641.2 L438.8 645 L435 642.5Z"/><path d="M386.2 654.5 L391.2 648 L395.5 650 L392.5 655 L387.5 656.5Z"/><path d="M413.8 688.8 L416 685.2 L419.3 682.5 L421.2 678.8 L423.5 676.4 L425.4 673.8 L427.5 671.2 L431.2 666.2 L432.4 669.9 L432.6 673.8 L433.8 677.5 L434 681 L434.1 684.5 L433.6 688.1 L435.1 691.5 L435 695 L431.5 691 L426.2 692 L423.2 690.7 L420.1 690.1 L417 689.3Z"/><path d="M387.5 583.8 L391.2 585 L392.5 591.2 L388.8 590Z"/><path d="M448 618 L452 617 L453.5 620.5 L450 622.5Z"/><path d="M948.8 498.8 L952 497.7 L955 496.2 L958.6 499 L962.5 501.2 L962.8 497.4 L963.8 493.8 L965.3 496.8 L966.2 500 L968.2 503.9 L972.5 503.8 L975.7 504.8 L978.8 506.2 L985 506.2 L987.3 509.5 L990 512.5 L987.3 516.8 L991.2 520 L990.1 523.7 L990 527.5 L989.7 531.9 L988.8 536.2 L983.9 537.9 L986.2 542.5 L984.1 545.4 L982.5 548.8 L978.8 553.8 L977.3 556.8 L976.2 560 L971.3 560 L971.2 565 L968.2 567.7 L966.2 571.2 L962.5 576.2 L959.6 577.9 L956.2 578.8 L951.8 579.8 L947.5 581.2 L944.2 581.3 L940.8 581.1 L937.5 581.2 L933.7 580.9 L930 580 L923.8 581.2 L918.9 579.5 L917.5 584.5 L915 582 L917.1 578.8 L920 576.2 L918.8 570 L916.2 565 L912.5 560 L907.5 562.5 L903.3 561.1 L901.2 565 L897.8 566.3 L895 568.8 L893.8 565 L896.7 562.3 L900 560 L903.4 558.5 L906.2 556.2 L908.8 551.2 L905 550 L901.2 546.2 L898.1 548 L895 550 L891 550.4 L887.5 552.5 L883.8 551.2 L887.5 546.2 L885 541.2 L888.8 537.5 L886.2 532.5 L888.2 529.4 L890 526.2 L896.2 525 L899.2 527.1 L902.5 528.8 L904.4 531.8 L907.5 533.8 L909.5 536.8 L911.2 540 L916.2 543.8 L917.5 537.5 L916.5 533.2 L916.2 528.8 L918.8 523.8 L923.8 526.2 L924.9 523.1 L926.2 520 L931.2 516.2 L936.2 517.5 L940 512.5 L945 508.8 L947.5 503.8Z"/><path d="M1088.8 533.8 L1092.5 527.5 L1096.2 528.8 L1097.5 535 L1095 538.8 L1091.2 540Z"/><path d="M1101.2 545 L1107.5 547 L1107 548.2 L1100.8 546.2Z"/><path d="M1177 560 L1184 558 L1187 566 L1185 574 L1179 572Z"/><path d="M1168 590 L1180 583 L1190 575 L1191 579 L1181 587 L1169 593Z"/><path d="M949.5 362 L951.5 361 L950.5 370 L948.5 371Z"/></g>
<g clip-path="url(#fan)" fill="none" stroke="#f4f8fc" stroke-linecap="round" stroke-linejoin="round">
<path d="M657.5 173.8 L655 182.5 L652 192.5" stroke-width="1.3"/>
<path d="M667.5 173.8 L675 181.2 L683.8 190" stroke-width="1.4"/>
<path d="M676.2 167.5 L681.2 176.2 L685 185" stroke-width="1.1"/>
<path d="M636.2 182.5 L638 188.8 L640.5 195" stroke-width="1.1"/>
<path d="M725 187.5 L732.5 182.5 L742.5 178.8 L750 177" stroke-width="2.4"/>
<path d="M725 186.2 L737.5 180 L750 173.8 L758.8 168.8" stroke-width="2.4"/>
<path d="M747.5 188.8 L751.2 180 L753.8 173.8" stroke-width="1.4"/>
<path d="M763.8 200 L765.5 180 L761.2 170.5" stroke-width="1.6"/>
<path d="M772.5 202.5 L781.2 200 L790 196.2" stroke-width="1.3"/>
<path d="M830.5 421.2 L822.5 416.2 L810 417.5 L800 410" stroke-width="1.3"/>
<path d="M833 437 L825 447.5 L815 455" stroke-width="1.3"/>
<path d="M813.8 432.5 L813 440 L812.5 447.5" stroke-width="1.1"/>
<path d="M840 370 L825 380 L820 390 L823.8 397.5" stroke-width="1.4"/>
<path d="M820 380 L810 365 L807.5 361.2" stroke-width="1.1"/>
<path d="M817.5 382.5 L810 380 L802.5 377.5" stroke-width="1.1"/>
<path d="M555 172 L567.5 176.2 L580 180" stroke-width="1"/>
<path d="M535 187.5 L545 192.5 L552.5 200" stroke-width="1"/>
<path d="M605 180 L597.5 185 L590 187.5" stroke-width="1"/>
<path d="M620 425 L616.2 432.5 L610 437.5" stroke-width="1.1"/>
<path d="M458.8 516.2 L465 530 L467.5 540" stroke-width="1.8"/>
<path d="M420 575 L426.2 595 L431.2 615" stroke-width="1.6"/>
</g>
<g clip-path="url(#circ)">
<circle cx="220" cy="189" r="190" fill="#f7fafd"/>
<path d="M108.8 165 L121.9 144.4 L150 132 L180 128.2 L210 126.8 L232.5 117 L249.4 121.9 L260.6 150 L264.4 176.2 L271.9 202.5 L281.2 225 L264.4 228.8 L243.8 221.2 L225 205.5 L210 196.9 L187.5 204.4 L165 200.6 L142.5 193.1 L118.1 183.8Z" fill="#dbe9f4" filter="url(#b3)" opacity="1"/>
<path d="M116.2 165 L127.5 148.1 L150 138 L180 134.2 L210 132 L215.6 157.5 L219.4 187.5 L210 192 L187.5 198.8 L165 195.8 L144.4 187.5 L123.8 179.2Z" fill="#cfe3f1" filter="url(#b3)" opacity="1"/>
<path d="M221.2 131.2 L234.4 121.9 L245.6 127.5 L255.8 150 L259.5 176.2 L266.2 202.5 L273 219.4 L262.5 223.1 L245.6 215.6 L228.8 200.6 L221.2 187.5 L217.5 157.5Z" fill="#c9dff0" filter="url(#b3)" opacity="1"/>
<path d="M243.8 225 L262.5 226.9 L285 238.1 L307.5 260.6 L323.2 286.9 L331.9 316.9 L318.8 324.4 L300 313.1 L285 301.9 L270 286.9 L258.8 264.4 L250.5 243.8Z" fill="#cfe3f1" filter="url(#b3)" opacity="1"/>
<path d="M210 339.4 L232.5 323.2 L255 330.8 L277.5 330.8 L300 323.2 L326.2 327 L318.8 356.2 L285 375 L243.8 382.5 L210 382.5Z" fill="#cfe3f1" filter="url(#b3)" opacity="1"/>
<path d="M210 300 L225 288.8 L243.8 292.5 L258.8 300 L262.5 318.8 L247.5 326.2 L225 326.2 L211.9 318.8Z" fill="#dbe9f4" filter="url(#b3)" opacity="0.8"/>
<path d="M156.8 339.4 L176.2 330 L195 345 L202.5 360 L210 382.5 L165 382.5 L151.9 360Z" fill="#cfe3f1" filter="url(#b3)" opacity="1"/>
<path d="M168 258.8 L180 254.2 L186 270 L184.5 293.2 L176.2 300.8 L168 285Z" fill="#dbe9f4" filter="url(#b3)" opacity="1"/>
<path d="M75 63.8 L112.5 35.6 L148.1 11.2 L144.4 37.5 L132 56.2 L128.2 75 L112.5 87 L95.6 76.9Z" fill="#cfe3f1" filter="url(#b3)" opacity="1"/>
<path d="M26.2 168.8 L40.5 141.8 L52.5 123 L62.2 131.2 L56.2 150.8 L45 169.5 L35.6 180Z" fill="#cfe3f1" filter="url(#b3)" opacity="1"/>
<g fill="#b3b3b3">
<path d="M45.7 102.7 L52.1 99.9 L54.8 98.1 L57.6 102.7 L62.2 106.3 L65.8 95.3 L73.2 94.4 L78.7 91.7 L84.2 92.6 L90.6 95.3 L93.3 102.7 L93.3 110 L98.8 112.8 L101.6 106.3 L108 103.6 L111.7 106.3 L110.8 113.7 L106.2 119.2 L115.3 117.3 L121.8 116.4 L124.5 124.7 L126.3 135.7 L122.7 144.8 L117.2 154 L111.7 163.2 L108 170.5 L104.3 176 L107.1 183.3 L109.8 192.5 L113.5 200 L106.2 195.5 L105.2 202.8 L106.2 210.2 L102.5 217.5 L100.7 223 L104.3 229.4 L108 234.9 L111.7 241.3 L114.4 246.8 L116.3 254.2 L115.3 259.7 L119.9 258.8 L125.4 256 L130 257.8 L131.8 262.4 L128.2 268.8 L130 273.4 L126.3 278 L122.7 281.7 L117.2 283.5 L115.3 285.3 L108 284.4 L100.7 283.5 L93.3 284.4 L86 285.3 L80.5 288.1 L76.8 292.7 L75 298.2 L72.2 301.8 L75 307.3 L76.8 311.9 L56.7 336.7 L1.7 263.3 L1.7 183.3 L27.3 178.8 L31 176.9 L43.8 173.2 L31.4 172.3 L31.9 169.6 L38.3 166.8 L43.8 163.2 L50.2 157.7 L55.8 150.3 L59.4 143 L57.6 136.6 L61.2 132.9 L66.8 131.1 L62.2 126.5 L56.7 121.9 L53.9 117.3 L50.2 117.3 L47.5 110Z"/>
<path d="M148.3 12.8 L161.2 11 L166.7 8.2 L164.8 17.4 L160.2 27.5 L156.6 36.7 L155.7 44.9 L159.3 41.2 L162.1 35.8 L166.7 36.7 L171.2 30.3 L175.8 19.2 L183.2 16.5 L192.3 14.7 L203.3 13.8 L211.6 11.9 L215.3 7.3 L221.7 0 L221.7 -11 L258.3 -11 L458.3 -11 L458.3 210.8 L349.2 210.8 L349.2 200 L348.3 194.3 L341.9 192.5 L337.3 187 L341 181.5 L339.2 174.2 L335.5 166.8 L329.1 170.5 L330.9 163.2 L332.8 155.8 L334.6 149.4 L330 152.2 L324.5 155.8 L315.3 156.8 L307.1 155.8 L309.8 151.2 L315.3 147.6 L322.7 144.8 L330 141.2 L337.3 140.2 L343.8 143 L341 137.5 L333.7 136.6 L326.3 139.3 L327.2 134.8 L330 129.2 L324.5 132 L319 137.5 L315.3 141.2 L310.8 142.1 L311.7 133.8 L313.5 127.4 L308 131.1 L304.3 135.7 L301.6 142.1 L297 138.4 L293.3 134.8 L290.6 137.5 L284.2 136.6 L276.8 133.8 L271.3 130.2 L265.8 131.1 L259.4 132 L260.3 128.3 L255.8 123.8 L254.8 118.3 L258.5 113.7 L265.8 111.8 L273.2 109.1 L265.8 109.1 L260.3 106.3 L253.9 102.7 L248.4 98.1 L243.8 99.9 L238.3 95.3 L240.2 89.8 L237.4 81.6 L233.8 86.2 L227.3 85.2 L220 86.2 L234.5 83.4 L227.2 84.3 L221.7 88 L214.3 89.8 L208.8 86.2 L203.3 85.2 L197.8 83.4 L192.3 86.2 L185 85.2 L181.3 80.7 L175.8 83.4 L168.5 86.2 L163.9 89.8 L161.2 86.2 L155.7 89.8 L148.3 93.5 L139.2 97.2 L130 99 L122.7 100.8 L117.2 99.9 L114.4 91.7 L117.2 88 L124.5 87.1 L130 85.2 L131.8 80.7 L129.1 73.3 L122.7 69.7 L121.8 66.9 L128.2 62.3 L130 55 L132.8 45.8 L134.6 39.4 L139.2 35.8 L144.7 32.1 L147.4 25.7 L146.5 18.3 L141 11Z"/>
<path d="M149.2 106.3 L152.4 104.9 L154.2 108.2 L151.1 110.9 L148.9 109.6Z"/>
<path d="M205.2 105.4 L210.7 104.1 L214.7 107.3 L210.7 108.5Z"/>
<path d="M214.3 105.4 L219.8 102.7 L224.4 105.4 L223.5 110 L218 110.4Z"/>
<path d="M214.3 94.4 L219.8 95 L219.5 97.2 L214.7 96.8Z"/>
<path d="M256.7 136.6 L262.2 135.7 L261.2 141.2 L263.1 146.7 L261.2 152.2 L254.8 152.2 L253.9 148.5 L257.6 143Z"/>
<path d="M220 102.7 L223.7 103.6 L223.3 110 L220 109.6Z"/>
<path d="M289.7 165 L293.3 164.1 L298.8 170.5 L306.2 175.1 L315.3 177.8 L321.8 177.8 L326.3 174.2 L328.2 176.9 L325.4 181.5 L319.9 183.3 L311.7 182.4 L303.4 179.7 L297 175.1 L292.4 169.6Z"/>
<path d="M265.8 176 L269.5 174.2 L272.2 178.8 L268.6 181.5Z"/>
<path d="M271.3 183.3 L275 181.5 L275.9 188.8 L272.8 190.7Z"/>
<path d="M335.5 187.9 L339.2 188.5 L338.8 191.6 L335.9 191.2Z"/>
<path d="M93.3 347.7 L98.8 334.8 L106.2 342.2 L109.8 334.8 L110.8 327.5 L115.3 322 L119 314.7 L122.7 311 L128.2 312.8 L132.8 318.3 L135.5 325.7 L136.4 333 L139.2 336.7 L146.5 338.5 L150.2 342.2 L151.1 349.5 L150.2 356.8 L151.1 366 L130 373.3Z"/>
<path d="M151.1 260.6 L157.5 257.8 L162.1 261.5 L163.9 268.8 L164.8 276.2 L166.7 283.5 L168.5 290.8 L171.2 300 L172.2 309.2 L168.5 313.8 L164.8 316.5 L161.2 312.8 L159.3 307.3 L156.6 309.2 L157.5 316.5 L155.7 323.8 L152 325.7 L148.3 320.2 L144.7 314.7 L141 309.2 L137.3 305.5 L132.8 303.7 L130.9 300 L134.6 298.2 L141 299.1 L146.5 297.2 L151.1 292.7 L148.3 289 L144.7 289.9 L142.8 287.2 L146.5 283.5 L150.2 281.7 L152.9 276.2 L151.1 270.7 L148.3 267Z"/>
<path d="M115 201.2 L118.8 196.9 L125.3 195.8 L132.9 196.9 L134 202.3 L132.9 207.8 L130.8 212.1 L127.5 209.9 L123.2 206.7 L118.8 205.6Z"/>
<path d="M108 215.3 L112.3 212.1 L116.7 209.9 L122.1 207.8 L127.5 212.1 L129.7 216.4 L128.6 220.8 L132.9 222.9 L136.7 225.1 L134 228.3 L129.7 229.4 L126.4 232.7 L123.2 235.9 L121 241.3 L117.8 242.4 L114.5 239.2 L112.3 234.8 L109.1 230.5 L105.8 225.1 L105.3 219.7Z"/>
<path d="M130.8 241.3 L134 233.8 L138.3 231.6 L143.8 233.8 L145.9 237 L149.2 240.2 L150.2 244.6 L147 246.8 L142.7 245.7 L138.3 243.5 L134 244Z"/>
<path d="M141.6 198 L145.9 198.5 L150.2 201.2 L151.3 205.6 L149.2 209.9 L147 215.3 L149.2 218.6 L145.9 221.8 L142.7 219.7 L139.4 215.3 L136.7 212.1 L138.3 207.8 L140.5 202.3Z"/>
<path d="M153.5 207.8 L156.8 205.6 L160 208.8 L157.8 212.1 L154 211Z"/>
<path d="M160 216.4 L164.3 213.2 L166.5 216.4 L164.3 221.8 L161.1 221.8Z"/>
<path d="M149.2 221.8 L153.5 222.9 L155.7 227.2 L153.5 231.6 L150.2 232.7 L148.1 228.3Z"/>
<path d="M157.8 228.3 L161.1 230.5 L160 235.9 L157.3 233.8Z"/>
<path d="M163.2 224 L167 221.8 L167.6 226.2 L164.3 228.3Z"/>
<path d="M169.8 222.9 L173 218.6 L178.4 217 L184.9 217.5 L192.5 218.6 L199 220.8 L203.3 224 L204.4 228.3 L201.2 231.6 L196.8 233.8 L192.5 237 L188.2 239.2 L183.8 241.3 L179.5 244.6 L175.2 247.3 L170.8 245.7 L168.7 242.4 L170.8 238.1 L169.8 233.8 L168.7 228.3Z"/>
<path d="M153.5 241.3 L156.8 238.1 L162.2 239.2 L166.5 242.4 L169.8 247.8 L167.6 252.2 L163.2 253.2 L160 250 L155.7 246.8Z"/>
<path d="M138.3 258.7 L142.7 253.2 L149.2 250 L154.6 251.1 L160 255.4 L164.3 260.8 L165.4 267.3 L166.5 274.9 L167.6 282.5 L167 289 L164.3 295 L151.3 295 L152.4 287.9 L151.3 280.3 L149.2 274.9 L145.9 271.7 L141.6 267.3 L139.4 263Z"/>
<path d="M143.8 287.9 L148.1 286.8 L149.2 291.2 L144.8 292.2Z"/>
<path d="M111.2 235.9 L112.3 241.3 L116.7 245.7 L117.8 251.1 L115.6 256.5 L121 258.7 L125.3 255.4 L127.5 250 L130.8 247.8 L136.2 248.9 L138.3 252.2 L135.1 256.5 L131.8 260.8 L128.6 266.2 L127.5 271.7 L130.8 273.8 L134 270.6 L138.3 267.3 L140.5 270.6 L138.3 274.9 L136.2 279.2 L135.1 282.5 L131.8 284.7 L127.5 282.5 L124.2 280.3 L119.9 282.5 L116.7 287.9 L105.8 282.5 L101.5 250Z"/>
<path d="M117.2 305.5 L121.8 307.3 L122.7 311.9 L119 312.8Z"/>
<path d="M183.2 245 L185.9 239.5 L192.3 235.8 L199.7 232.2 L207 228.5 L216.2 225.8 L223.5 223.9 L230.8 225.8 L240 229.4 L244 227.6 L246.8 231.2 L244.9 239.5 L245.8 246.8 L247.3 254.2 L249.5 261.5 L250.4 268.8 L252.2 276.2 L254.1 283.5 L255.6 289 L252.8 292.7 L249.9 296.3 L246.2 300 L242.5 304.6 L238.9 309.2 L235.2 312.8 L230.6 318.3 L226 322.9 L222.4 327.5 L219.6 334.8 L216.9 342.2 L214.1 349.5 L211.4 355.9 L207.7 358.7 L204 356.8 L204.2 356.8 L200.6 351.3 L196.9 344 L194.2 336.7 L192.3 329.3 L190.5 322 L189.6 314.7 L191.4 307.3 L193.2 300 L196 292.7 L196.9 285.3 L196 278 L195.1 270.7 L193.2 263.3 L188.7 257.8 L184.1 252.3Z"/>
<path d="M264.2 223.9 L266.9 215.7 L270.6 211.1 L273.3 213.8 L277 219.3 L282.5 220.2 L283.4 224.8 L280.7 229.4 L275.2 228.5 L270.6 226.7 L266.9 225.8Z"/>
<path d="M257.8 316.5 L261.4 314.7 L266 315.6 L269.7 311.9 L274.2 309.2 L278.8 311 L282.5 314.7 L281.6 320.2 L277.9 324.8 L273.3 327.5 L267.8 328.4 L264.2 327.5 L265.1 323.8 L261.4 321.1Z"/>
<path d="M317.3 235.8 L317.3 245 L319.2 254.2 L321.9 261.5 L326.5 270.7 L329.2 278 L331.1 285.3 L332 292.7 L334.8 300 L339.3 305.5 L344.8 310.1 L349.4 311.9 L353.1 307.3 L355.8 302.2 L361.3 300 L368.7 299.1 L376 295.4 L383.3 289.9 L438.3 289.9 L438.3 182.7 L346.7 182.7 L341.2 195.5 L344.8 199.2 L350.3 204.7 L353.1 210.2 L355.8 213.8 L361.3 215.7 L362.2 220.2 L355.8 223 L348.5 226.7 L344.8 224.8 L346.7 217.5 L351.2 212 L348.5 208.3 L343 209.2 L335.7 213.8 L330.2 219.3 L324.7 224.8 L319.2 229.4Z"/>
<path d="M361.3 307.3 L365 304.6 L366.8 309.2 L364.1 314.7 L361.3 313.8Z"/>
<path d="M319.2 338.5 L322.8 334.8 L326.5 331.2 L332 333 L335.7 336.7 L332.9 342.2 L328.3 345.8 L324.7 347.7 L321 344Z"/>
</g>
<path d="M343 248.7 L346.7 245.9 L350.3 250.5 L352.2 257.8 L355.8 263.3 L361.3 267 L366.8 268.8 L372.3 263.3 L376 252.3 L378.8 246.8 L380.6 250.5 L377.8 259.7 L376 267 L381.5 268.8 L387 267.9 L388.8 271.6 L383.3 274.3 L379.7 278 L376 281.7 L378.8 287.2 L374.2 289 L370.5 283.5 L366.8 278 L361.3 276.2 L355.8 274.3 L351.2 270.7 L348.5 263.3 L346.7 256Z" fill="#f7fafd"/>
</g>
<path d="M218.4 190 L96.1 314.3 A174.2 174.2 0 0 0 331.6 322 Z" fill="none" stroke="#424242" stroke-width="3.5" stroke-linejoin="miter"/>
<path d="M587 206 Q545 232 523 272" fill="none" stroke="#8aa6c6" stroke-width="5"/>
<path d="M513.5 285 L515.2 266.3 L520.9 272.4 L529 274.4Z" fill="#8aa6c6"/>
<path d="M802.5 153 Q838 192 847 232" fill="none" stroke="#8aa6c6" stroke-width="5"/>
<path d="M849 248.5 L838.4 231.9 L846.7 233.2 L854.2 229.5Z" fill="#8aa6c6"/>
<path d="M860 270 Q871 330 870.5 386" fill="none" stroke="#8aa6c6" stroke-width="4.8"/>
<path d="M870 401 L862.8 384 L870 386.4 L877.2 384Z" fill="#8aa6c6"/>
<path d="M870.6 412 Q871 452 850 490 Q825 535 787 571" fill="none" stroke="#8aa6c6" stroke-width="4.8"/>
<path d="M776 582 L783.1 563.6 L786.9 571.1 L794.4 574.9Z" fill="#8aa6c6"/>
<path d="M655 735 Q625 722 608 696" fill="none" stroke="#ecbb69" stroke-width="5"/>
<path d="M601.5 684.5 L616.3 696.1 L608 697.6 L601.9 703.3Z" fill="#ecbb69"/>
<path d="M603 676 Q577 600 576.5 515 Q577 450 587.5 402" fill="none" stroke="#ecbb69" stroke-width="4.8"/>
<path d="M590.5 384.7 L594.4 403.8 L587.5 399.9 L579.7 400.9Z" fill="#ecbb69"/>
<path d="M587.6 375.5 Q587 352 572 345.5" fill="none" stroke="#ecbb69" stroke-width="4.8"/>
<path d="M560.2 341 L577.6 339.4 L573.3 345.4 L573.2 352.7Z" fill="#ecbb69"/>
<path d="M573 614 Q558 590 531 598" fill="none" stroke="#ecbb69" stroke-width="5"/>
<path d="M517 603.5 L529.5 591.1 L530 598.9 L534.6 605.2Z" fill="#ecbb69"/>
<path d="M941 637 Q880 592 825 601 Q800 605 781 616" fill="none" stroke="#f09990" stroke-width="4.8"/>
<path d="M766.7 624 L779.1 608.9 L780.4 616.7 L786.1 622.1Z" fill="#f09990"/>
<path d="M762 629.5 Q733 668 719 702" fill="none" stroke="#f09990" stroke-width="4.8"/>
<path d="M712.7 716.7 L712.4 697.2 L718.4 702.3 L726.3 702.8Z" fill="#f09990"/>
<path d="M955.5 691 Q957 670 952 656" fill="none" stroke="#f09990" stroke-width="5"/>
<path d="M949 641 L960.7 655.7 L952.3 655.2 L945.1 659.4Z" fill="#f09990"/>
<text x="717" y="368" font-size="21" fill="#484848" text-anchor="middle" textLength="99" lengthAdjust="spacingAndGlyphs">Greenland</text>
<text x="683" y="137" font-size="16" fill="#484848" text-anchor="middle" textLength="84" lengthAdjust="spacingAndGlyphs">Lincoln Sea</text>
<text x="535.5" y="375.5" font-size="16" fill="#484848" text-anchor="middle" textLength="42" lengthAdjust="spacingAndGlyphs">Baffin</text>
<text x="536" y="399" font-size="16" fill="#484848" text-anchor="middle" textLength="26" lengthAdjust="spacingAndGlyphs">Bay</text>
<text x="569.5" y="192" font-size="16" fill="#484848" text-anchor="middle" transform="rotate(-31 569.5 192)" textLength="90" lengthAdjust="spacingAndGlyphs">Nares Strait</text>
<text x="736" y="101" font-size="16" fill="#333" text-anchor="middle" transform="rotate(-31 736 101)" textLength="44" lengthAdjust="spacingAndGlyphs">85° N</text>
<text x="817" y="190.5" font-size="16" fill="#333" text-anchor="middle" transform="rotate(-38 817 190.5)" textLength="44" lengthAdjust="spacingAndGlyphs">80° N</text>
<text x="901.5" y="281" font-size="16" fill="#333" text-anchor="middle" transform="rotate(-36 901.5 281)" textLength="44" lengthAdjust="spacingAndGlyphs">75° N</text>
<text x="983" y="369.5" font-size="16" fill="#333" text-anchor="middle" transform="rotate(-36 983 369.5)" textLength="44" lengthAdjust="spacingAndGlyphs">70° N</text>
<text x="1065" y="464" font-size="16" fill="#333" text-anchor="middle" transform="rotate(-35 1065 464)" textLength="44" lengthAdjust="spacingAndGlyphs">65° N</text>
<text x="1152" y="555" font-size="16" fill="#333" text-anchor="middle" transform="rotate(-33 1152 555)" textLength="44" lengthAdjust="spacingAndGlyphs">60° N</text>
<path id="egc" d="M876.3 306 Q885.7 394 873.5 483" fill="none"/>
<text font-size="17" fill="#6e97c4"><textPath href="#egc" textLength="176" lengthAdjust="spacingAndGlyphs">East Greenland current</textPath></text>
<path id="wgc" d="M571.3 580.5 Q565.2 475.6 579.6 394.5" fill="none"/>
<text font-size="16.5" font-weight="bold" fill="#e9a63c"><textPath href="#wgc" textLength="186" lengthAdjust="spacingAndGlyphs">West Greenland current</textPath></text>
<path id="irc" d="M740 699 Q762 632 829.5 621" fill="none"/>
<text font-size="16.5" fill="#ee958c"><textPath href="#irc" textLength="124" lengthAdjust="spacingAndGlyphs">Irminger current</textPath></text>
<circle cx="576.5" cy="321.5" r="7.3" fill="#fff" stroke="#d9604c" stroke-width="4.4"/>
<circle cx="621" cy="184" r="7.3" fill="#fff" stroke="#9b62b8" stroke-width="4.4"/>
<circle cx="662" cy="164" r="7.3" fill="#fff" stroke="#3690c8" stroke-width="4.4"/>
<circle cx="818.5" cy="197" r="7.3" fill="#fff" stroke="#4fa651" stroke-width="4.4"/>
<rect x="238" y="756" width="86.7" height="356" fill="#f0f0f0"/>
<rect x="238" y="1120" width="86.7" height="367.5" fill="#f0f0f0"/>
<rect x="411.4" y="756" width="86.7" height="356" fill="#f0f0f0"/>
<rect x="411.4" y="1120" width="86.7" height="367.5" fill="#f0f0f0"/>
<rect x="584.7" y="756" width="86.7" height="356" fill="#f0f0f0"/>
<rect x="584.7" y="1120" width="86.7" height="367.5" fill="#f0f0f0"/>
<rect x="758.1" y="756" width="86.7" height="356" fill="#f0f0f0"/>
<rect x="758.1" y="1120" width="86.7" height="367.5" fill="#f0f0f0"/>
<rect x="931.5" y="756" width="86.7" height="356" fill="#f0f0f0"/>
<rect x="931.5" y="1120" width="86.7" height="367.5" fill="#f0f0f0"/>
<rect x="1104.8" y="756" width="86.7" height="356" fill="#f0f0f0"/>
<rect x="1104.8" y="1120" width="86.7" height="367.5" fill="#f0f0f0"/>
<path d="M181.8 926.6 L185.9 902.8 L191.5 886.9 L194.9 900.5 L200.6 907.3 L203.5 916.4 L207.4 872.2 L211.5 896 L215.3 877.9 L221 891.5 L224.4 889.2 L227.8 875.6 L231.2 875.6 L235.7 872.2 L239.6 907.3 L242.5 923.2 L247.1 873.3 L252.7 850.7 L255.7 859.7 L257.7 829.1 L262.9 864.3 L267.5 868.8 L271.3 834.8 L273.1 829.1 L276.5 837.1 L279.2 812.1 L282.2 813.3 L285.6 807.6 L287.9 843.9 L290.1 814.4 L293.5 846.1 L295.8 855.2 L298.7 811 L301 848.4 L306 837.1 L312.1 817.8 L314.4 832.5 L316.6 850.7 L318.5 808.7 L320.7 809.9 L323 771.3 L324.8 761.1 L327.1 778.1 L328.7 812.1 L331.6 846.1 L333.6 886.9 L335.9 918.7 L338.2 868.8 L340.4 843.9 L344.5 850.7 L346.8 837.1 L350.9 826.9 L353.1 832.5 L355.2 868.8 L357 842.7 L362 852.9 L365.4 839.3 L368.8 859.7 L371.7 886.9 L374 896 L376.7 866.5 L379.7 882.4 L383.1 896 L387.6 876.7 L391 885.8 L396.7 891.5 L398.9 898.3 L402.8 888.1 L405.3 918.7 L407.3 941.3 L410.3 916.4 L413.7 907.3 L418.2 905.1 L420 867.3 L422.1 916.7 L424.6 925.6 L426.7 852.2 L428.8 895.2 L430.8 887 L433.1 844 L435.2 919.5 L437.7 889.1 L439.8 923.8 L441.9 937.1 L444.6 896.3 L446 887.2 L448.1 915.1 L450.6 871.8 L452.7 915.7 L454.8 923.8 L457.1 916 L459.6 874.4 L461.5 845 L463.1 895.2 L465.2 899.7 L467.9 909.6 L470 919.1 L472.1 908.2 L474.6 916.9 L477.3 937.4 L480.8 961.2 L482.5 953.9 L485.2 990.7 L487.7 923 L490.2 919.7 L492.9 925 L495.4 919.2 L498.1 937.7 L500.6 887.3 L502.7 878.1 L504.8 878.6 L506.9 948.4 L509.2 942.1 L511.2 897.5 L513.1 845.2 L515.4 914.9 L517.5 916.6 L519.6 906.8 L522.1 903 L524.2 930.2 L526.2 955.7 L528.3 959.4 L530.8 960.5 L533.5 932.2 L535.2 922.7 L537.1 965.3 L539.2 879.4 L541.2 927.2 L543.3 961.1 L545.6 991.9 L548.1 938.7 L550.2 937 L552.3 955.9 L554.4 959.1 L556.5 914.6 L558.5 925.8 L560.6 935.5 L562.7 923 L565.4 978.2 L567.5 949.2 L569.6 924.2 L571.7 973.1 L574.2 931.4 L576.2 919.2 L578.3 939.5 L580.4 948.9 L582.5 952.9 L584.6 960.8 L587.1 958 L589.2 908.4 L590.8 942.6 L592.9 930.7 L595 935.5 L597.7 949.1 L599.8 922.6 L602.3 890.5 L604 965.6 L606.5 915.9 L608.5 945.8 L611.7 950.1 L613.8 955.4 L615.2 961.7 L616.9 925.7 L619 933.3 L621.5 977.9 L623.8 955.6 L625.8 920.9 L627.9 960.5 L630.4 939.4 L632.5 957.2 L634.6 972.2 L636.7 923.2 L638.8 924.6 L640.8 954.4 L642.9 957.6 L645.4 963.7 L648.1 933.7 L650.2 924.7 L652.3 985 L655.4 971.3 L658.5 940 L660.6 966.1 L662.7 1000.6 L664.8 977.7 L666.9 940.3 L669 964.5 L670 972.8 L672.1 998.2 L675.2 962.5 L677.9 936 L680 940.3 L682.5 976.5 L685 945.3 L686.7 941.7 L688.8 963.5 L690.8 915.1 L693.3 943.3 L695 946.8 L697.1 944.2 L699.8 966.5 L701.9 937.3 L704.4 943.1 L707.5 956.2 L710.6 950 L712.7 915.1 L714.8 967.4 L717.5 943.3 L719 941 L721 938.9 L723.8 958 L725.2 946.2 L727.7 943.8 L730.4 969.8 L732.5 979.7 L734.6 957.2 L736.7 982.5 L739.4 946.8 L740.8 920.5 L742.9 974.9 L745 955 L747.1 963.8 L749.2 955.8 L751.7 979.1 L754.4 952.1 L756.5 929.9 L758.3 914.8 L760.6 935 L763.1 953.9 L765.8 990.8 L767.9 974.4 L771 1005.1 L773.1 958.9 L775.2 965 L777.3 943.9 L779.4 945.7 L781.9 923.8 L784.6 947.3 L787.1 968.3 L789.8 977.9 L791.5 977.1 L792.9 919.2 L795 993 L797.1 967 L798.8 958.9 L800.8 1004.3 L802.9 966.2 L805.4 993.1 L807.9 968.6 L810 997.9 L812.1 978.4 L814.8 1004.5 L816.9 1011.7 L819 1024.1 L821 981.7 L822.7 937.6 L824.6 960 L827.3 916.5 L829.4 957.1 L832.5 960.5 L834.6 962.2 L836.7 961.3 L838.8 973.4 L840.8 981.4 L842.9 963.5 L845 1015.8 L847.1 987.6 L848.8 968.4 L850.8 1000.2 L852.9 973.4 L855.4 993 L857.5 966.9 L859.6 964.2 L861.7 977 L863.8 1001.1 L866.2 1015.6 L868.3 976.8 L871 994.9 L875.2 1008.1 L877.3 975.5 L879.4 976.2 L881.9 966.8 L884 974.8 L886.7 997.8 L890.2 1039.6 L892.3 968.1 L894.6 981.6 L896.7 979.6 L899.2 988.9 L901.2 978.6 L903.3 997.3 L905.4 927.7 L907.5 957.9 L910.6 983 L914.2 1003.2 L916.9 962.2 L919 992.4 L920 993.6 L921.2 967 L923.5 972.5 L926.5 967.3 L929.3 927.2 L931.7 967.2 L935.2 987.5 L939.8 993.5 L942.2 927.5 L944.5 975.8 L946.1 969.2 L949.2 978.2 L952.7 945.8 L955 980.1 L957.3 955.9 L959.7 1012.3 L962 1007.4 L966 929.1 L968.3 1012.5 L970.2 1007.1 L972.5 1022.6 L974.8 1002.7 L977.2 1007.8 L979.5 992.7 L983 962.3 L986 976.5 L988.8 974.2 L991.9 952.4 L994.7 982.4 L999.3 990.8 L1001 1038.9 L1003.3 1040.1 L1005.2 1010.4 L1007.5 1014.9 L1009.1 974.7 L1011.5 996.8 L1013.8 999.9 L1018 958 L1020.8 1000.5 L1024.3 1053.1 L1026.2 981.7 L1028.5 1026.4 L1030.8 979.9 L1033.2 1017.8 L1036.7 979.4 L1039.7 982.5 L1042.5 986.7 L1044.8 991.6 L1046.5 967.2 L1050 1011.3 L1052.5 977.9 L1054.6 977.3 L1057.7 1001.5 L1060 1009.2 L1063.5 1034.5 L1065.1 1009.4 L1067.5 1027.2 L1070.5 1013.8 L1072.1 1024.2 L1075.9 1004.1 L1078.7 988.3 L1080.5 983 L1083.3 1014.4 L1086.1 1019.1 L1088.5 1011.9 L1090.3 994.4 L1093.8 981.9 L1096.6 1001.9 L1098.5 1002.2 L1100.1 974.9 L1102.5 1031.7 L1104.3 1004.7 L1106.7 1015.8 L1110.9 1047.3 L1112.5 1025.5 L1114.8 1028.3 L1117.6 994.5 L1120.7 1005.3 L1123 1018.3 L1124.9 1024.2 L1126.5 1044.6 L1128.8 1020.1 L1130.7 1014.6 L1132.8 1043.6 L1137 1018.5 L1139.3 1034.2 L1141.2 1031 L1143.3 1002.8 L1145.2 1047.5 L1148.2 1061.8 L1151.5 1038.7 L1154 1028.5 L1156.4 1032 L1158.7 1047.1 L1162.7 1037.9 L1164.5 1068.6 L1167.8 1073.5 L1169.7 1029.1 L1172 1002.6 L1174.3 1027.9 L1176.6 1052 L1179 1036.9 L1181.8 995.8 L1183.6 994.6 L1187.1 991 L1188.8 901.8 L1190.2 915.5 L1191.3 928.4 L1191.3 954.8 L1190.2 942.8 L1188.8 934 L1187.1 1019.9 L1183.6 1021 L1181.8 1024.7 L1179 1066 L1176.6 1084.3 L1174.3 1056.5 L1172 1033.6 L1169.7 1058.1 L1167.8 1102.7 L1164.5 1097.8 L1162.7 1068.9 L1158.7 1079.2 L1156.4 1061.1 L1154 1059.3 L1151.5 1068.9 L1148.2 1092 L1145.2 1076.2 L1143.3 1042.1 L1141.2 1063.6 L1139.3 1063.6 L1137 1050.3 L1132.8 1073.7 L1130.7 1048 L1128.8 1052.6 L1126.5 1076.1 L1124.9 1055 L1123 1049.3 L1120.7 1036.1 L1117.6 1027.4 L1114.8 1061.2 L1112.5 1061.7 L1110.9 1081.9 L1106.7 1051.1 L1104.3 1043.2 L1102.5 1066.8 L1100.1 1016.5 L1098.5 1038 L1096.6 1037.1 L1093.8 1015.3 L1090.3 1025.6 L1088.5 1046.2 L1086.1 1049.7 L1083.3 1049 L1080.5 1019.9 L1078.7 1021.1 L1075.9 1036.6 L1072.1 1058.4 L1070.5 1049.5 L1067.5 1062.1 L1065.1 1048.9 L1063.5 1069 L1060 1044.3 L1057.7 1038.2 L1054.6 1015 L1052.5 1015.7 L1050 1047.4 L1046.5 1009.1 L1044.8 1026.3 L1042.5 1021.1 L1039.7 1014.9 L1036.7 1017.7 L1033.2 1058.4 L1030.8 1024.7 L1028.5 1064.7 L1026.2 1026.6 L1024.3 1091.3 L1020.8 1037.2 L1018 1000 L1013.8 1036.5 L1011.5 1032.2 L1009.1 1017.9 L1007.5 1050.5 L1005.2 1049.4 L1003.3 1081.1 L1001 1080.1 L999.3 1033.9 L994.7 1019.2 L991.9 994.1 L988.8 1012.4 L986 1013.2 L983 1003.3 L979.5 1030.8 L977.2 1047.5 L974.8 1040.8 L972.5 1063.4 L970.2 1045.8 L968.3 1056 L966 978.3 L962 1051.7 L959.7 1054.9 L957.3 1003.4 L955 1018.2 L952.7 992.5 L949.2 1019.3 L946.1 1009.1 L944.5 1017.6 L942.2 978.9 L939.8 1038.7 L935.2 1027.8 L931.7 1004 L929.3 972 L926.5 1003.2 L923.5 1010 L921.2 1012.1 L920 1031.2 L919 1035 L916.9 1008.5 L914.2 1047.8 L910.6 1023.3 L907.5 997.2 L905.4 973.4 L903.3 1041.3 L901.2 1019.8 L899.2 1025.9 L896.7 1020 L894.6 1020 L892.3 1017.3 L890.2 1083.5 L886.7 1036 L884 1015.1 L881.9 1005.2 L879.4 1014.2 L877.3 1016.9 L875.2 1049.8 L871 1034.8 L868.3 1021.4 L866.2 1059.2 L863.8 1041 L861.7 1019 L859.6 1007.8 L857.5 1010.9 L855.4 1035 L852.9 1020.3 L850.8 1046.2 L848.8 1014.5 L847.1 1026.8 L845 1057.6 L842.9 1014.5 L840.8 1025.3 L838.8 1017.8 L836.7 1004.6 L834.6 1006.5 L832.5 1003.9 L829.4 1000 L827.3 969.6 L824.6 1007.6 L822.7 984.9 L821 1021.6 L819 1072.7 L816.9 1054 L814.8 1049.2 L812.1 1026.2 L810 1039.8 L807.9 1016.2 L805.4 1038.1 L802.9 1017.2 L800.8 1050.1 L798.8 1009.9 L797.1 1014.1 L795 1040.8 L792.9 975.8 L791.5 1023.9 L789.8 1023.4 L787.1 1015 L784.6 989.3 L781.9 970.6 L779.4 990.2 L777.3 988.1 L775.2 1008.3 L773.1 1011.6 L771 1054.4 L767.9 1021.6 L765.8 1041.4 L763.1 996.3 L760.6 976.2 L758.3 964.4 L756.5 976.5 L754.4 995.7 L751.7 1028.3 L749.2 1003.4 L747.1 1008.9 L745 1002 L742.9 1025.5 L740.8 977.8 L739.4 993.3 L736.7 1029 L734.6 1008.8 L732.5 1027.6 L730.4 1015 L727.7 992.8 L725.2 991.7 L723.8 1004.8 L721 988 L719 985.8 L717.5 993.5 L714.8 1017.7 L712.7 971 L710.6 1001.1 L707.5 1002.5 L704.4 992.2 L701.9 988.5 L699.8 1019.5 L697.1 995.5 L695 993.8 L693.3 989.4 L690.8 972 L688.8 1013.5 L686.7 993.6 L685 995.7 L682.5 1028.4 L680 989.3 L677.9 988.9 L675.2 1009.3 L672.1 1049.4 L670 1020.5 L669 1009.9 L666.9 997.4 L664.8 1030.2 L662.7 1051.9 L660.6 1013.2 L658.5 996.5 L655.4 1023.2 L652.3 1038.1 L650.2 982 L648.1 989.9 L645.4 1016.7 L642.9 1007.5 L640.8 1007.2 L638.8 980 L636.7 979.9 L634.6 1026.1 L632.5 1005.9 L630.4 991.3 L627.9 1013.1 L625.8 977.1 L623.8 1003.8 L621.5 1034.2 L619 989.1 L616.9 985.2 L615.2 1011.6 L613.8 1003.1 L611.7 996.3 L608.5 997 L606.5 979 L604 1020.2 L602.3 954.2 L599.8 974.5 L597.7 1004.2 L595 990 L592.9 983.7 L590.8 999.7 L589.2 970.1 L587.1 1011.1 L584.6 1011.3 L582.5 1005.5 L580.4 999.5 L578.3 987.9 L576.2 978.8 L574.2 986.5 L571.7 1036.6 L569.6 988.6 L567.5 1006.6 L565.4 1037.7 L562.7 990.5 L560.6 993.5 L558.5 980.8 L556.5 977.7 L554.4 1019.9 L552.3 1005.1 L550.2 994.2 L548.1 998 L545.6 1051.9 L543.3 1019.3 L541.2 985.8 L539.2 953.9 L537.1 1027.7 L535.2 986.9 L533.5 997.3 L530.8 1023.2 L528.3 1018.1 L526.2 1011 L524.2 988.9 L522.1 964.3 L519.6 967.2 L517.5 977 L515.4 977.9 L513.1 922.7 L511.2 958.3 L509.2 1005.2 L506.9 1009.6 L504.8 950.3 L502.7 941.1 L500.6 952.2 L498.1 1005.4 L495.4 983.7 L492.9 983.1 L490.2 981.9 L487.7 1000 L485.2 1054.2 L482.5 1018.4 L480.8 1025.8 L477.3 1000 L474.6 980.7 L472.1 970.8 L470 987.8 L467.9 972.8 L465.2 970.6 L463.1 963.4 L461.5 929.6 L459.6 944.3 L457.1 991.3 L454.8 995.5 L452.7 989.9 L450.6 964.2 L448.1 997.8 L446 966.4 L444.6 978.6 L441.9 1026.2 L439.8 1009.4 L437.7 985.9 L435.2 1008.2 L433.1 944.9 L430.8 962.6 L428.8 977.9 L426.7 959.7 L424.6 1025.9 L422.1 1010.1 L420 971.3 L418.2 977.6 L415.5 986.7 L410.3 998 L407.3 1025.2 L402.8 973.1 L396.7 982.1 L394.4 975.3 L387.6 968.5 L384.2 993.5 L380.8 982.1 L376.7 970.8 L372.9 1011.6 L370.6 991.2 L366.5 943.6 L362 959.5 L359.3 948.1 L355.2 977.6 L353.1 941.3 L349.1 945.9 L344.5 961.7 L340.4 957.2 L338.2 986.7 L335.9 1043.3 L333.6 1004.8 L331.6 964 L328.7 927.7 L325.3 893.7 L319.6 930 L316.6 964 L312.8 939.1 L309.4 945.9 L303.7 957.2 L299.2 934.5 L296.9 975.3 L294.2 995.7 L290.1 936.8 L287.9 959.5 L285.6 928.9 L279.2 932.3 L274.3 945.9 L271.3 964 L268.6 998 L266.3 977.6 L262.9 984.4 L258.4 959.5 L255.7 975.3 L252.7 970.8 L247.1 991.2 L242.5 1034.3 L239.6 1022.9 L235.7 992.3 L227.8 998 L224.4 1011.6 L221 1013.9 L215.3 1005.9 L211.5 1024.1 L207.4 1004.8 L203.5 1044.5 L200.6 1036.5 L194.9 1034.3 L191.5 1028.6 L185.9 1041.1 L181.8 1061.5Z" fill="#000" fill-opacity="0.115"/>
<line x1="65" y1="1026" x2="1200" y2="1026" stroke="#b2b2b2" stroke-width="3"/>
<path d="M181.3 999.1 L184.1 996.9 L185.9 978.7 L189.3 964 L192.7 960.6 L196.1 973.1 L200.6 977.6 L203.5 987.8 L207.4 942.5 L209.7 965.1 L211.9 968.5 L214.7 948.1 L216.9 947 L221 959.5 L224.4 957.2 L227.8 941.3 L231.2 940.9 L235.7 935.7 L237.5 948.1 L239.6 978.7 L242.5 984.4 L247.1 937.9 L249.3 934.5 L251.6 919.8 L253.4 914.1 L255.7 923.2 L257.7 892.6 L261.8 933.4 L264.1 922.1 L266.3 924.3 L268.6 948.1 L271.3 905.1 L273.1 891.5 L276.5 899.4 L279.2 875.6 L282.2 876.7 L285.6 871.1 L287.9 909.6 L290.1 877.9 L292.4 909.6 L294.2 947.7 L296.9 932.3 L299.2 874.5 L301 910.7 L303.7 908.5 L306 901.7 L309.4 893.7 L312.1 880.1 L314.4 896 L316.6 916.4 L318.5 872.2 L320.7 875.6 L323 834.8 L325.3 828 L327.1 843.9 L328.7 873.3 L331.6 907.3 L333.6 954.9 L335.9 1000.3 L338.2 934.5 L340.4 901.7 L342.7 909.6 L344.5 911.9 L346.8 896 L349.1 893.7 L350.9 884.7 L353.1 889.2 L355.2 933.4 L357 898.3 L359.3 899.4 L362 911.9 L364.2 896 L366.5 892.6 L368.8 916.4 L370.6 948.1 L372.9 971.9 L375.1 939.1 L376.7 915.3 L379.7 937.9 L380.8 935.7 L383.1 952.7 L386 952.7 L387.6 922.1 L391 932.3 L394.4 933.4 L396.7 936.8 L398.9 943.6 L402.8 928.9 L405.3 968.5 L407.3 996.9 L410.3 964 L413.7 947 L415.5 945.9 L417.7 926.6 L420 928.8 L422.1 968.3 L424.6 974.6 L426.7 922.5 L428.8 938.1 L430.8 928.8 L433.1 911 L435.2 966.2 L437.7 949.6 L439.8 970.4 L441.9 982.9 L444.6 943.3 L446 935 L448.1 956.9 L450.6 928.8 L452.7 955.8 L454.8 960 L457.1 953.8 L459.6 916.2 L461.5 897.5 L463.1 928.8 L465.2 939.2 L467.9 947.5 L470 954.8 L472.1 944.4 L474.6 952.7 L477.3 972.5 L480.8 997.5 L482.5 993.3 L485.2 1021.5 L487.7 970.4 L490.2 954.8 L492.9 956.9 L495.4 955.8 L498.1 971.5 L500.6 926.7 L502.7 914.2 L504.8 924.6 L506.9 977.7 L509.2 973.5 L511.2 932.9 L513.1 895.8 L515.4 946.5 L517.5 948.5 L519.6 940.2 L522.1 940.2 L524.2 962.1 L526.2 984 L528.3 990.2 L530.8 995 L533.5 970.4 L535.2 962.1 L537.1 993.3 L539.2 926.7 L541.2 960 L543.3 993.3 L545.6 1019.4 L548.1 975.6 L550.2 972.5 L552.3 982.9 L554.4 991.7 L556.5 951.7 L558.5 954.8 L560.6 966.2 L562.7 966.2 L565.4 1009.6 L567.5 982.9 L569.6 967.3 L571.7 1003.8 L574.2 964.2 L576.2 953.8 L578.3 966.2 L580.4 975.6 L582.5 982.9 L584.6 988.1 L587.1 985 L589.2 947.5 L590.8 973.5 L592.9 963.1 L595 966.2 L597.7 977.7 L599.8 951.7 L602.3 934 L604 990.2 L606.5 956.9 L608.5 972.5 L611.7 975.6 L613.8 980.8 L615.2 987.5 L616.9 961 L619 966.2 L621.5 1004.2 L623.8 982.9 L625.8 957.9 L627.9 987.1 L630.4 970.4 L632.5 982.9 L634.6 996.5 L636.7 957.9 L638.8 956.9 L640.8 982.9 L642.9 985 L645.4 992.3 L648.1 966.2 L650.2 962.1 L652.3 1009.6 L655.4 998.5 L658.5 976.7 L660.6 993.3 L662.7 1024.6 L664.8 1005.8 L666.9 974.6 L669 989.2 L670 1001.7 L672.1 1021.5 L675.2 989.2 L677.9 967.3 L680 969.4 L682.5 1001.7 L685 974.6 L686.7 973.5 L688.8 989.2 L690.8 950.6 L693.3 966.2 L695 974.6 L697.1 975.6 L699.8 993.3 L701.9 967.3 L704.4 970.4 L707.5 979.8 L710.6 977.7 L712.7 952.7 L714.8 992.3 L717.5 972.5 L719 967.3 L721 967.3 L723.8 980.8 L725.2 973.5 L727.7 974.6 L730.4 993.3 L732.5 1004.8 L734.6 989.2 L736.7 1005.8 L739.4 972.5 L740.8 957.9 L742.9 1000.6 L745 982.9 L747.1 990.2 L749.2 985 L751.7 1004.8 L754.4 976.7 L756.5 955.8 L758.3 943.3 L760.6 957.9 L763.1 978.8 L765.8 1016.2 L767.9 1003.8 L771 1028.3 L773.1 991.2 L775.2 989.2 L777.3 970.4 L779.4 969.4 L781.9 952.7 L784.6 972.5 L787.1 993.3 L789.8 1003.8 L791.5 1000.6 L792.9 954.8 L795 1017.3 L797.1 995.4 L798.8 990.2 L800.8 1024.6 L802.9 998.5 L805.4 1016.2 L807.9 997.5 L810 1018.3 L812.1 1007.9 L814.8 1027.7 L816.9 1037.1 L819 1048.5 L821 1003.8 L822.7 968.3 L824.6 982.9 L827.3 949.6 L829.4 980.8 L832.5 985 L834.6 987.1 L836.7 987.1 L838.8 997.5 L840.8 1005.8 L842.9 996.5 L845 1036 L847.1 1010 L848.8 996.5 L850.8 1023.5 L852.9 1001.7 L855.4 1014.2 L857.5 993.3 L859.6 988.1 L861.7 1001.7 L863.8 1022.5 L866.2 1038.1 L868.3 1004.8 L871 1018.3 L875.2 1029.8 L877.3 1000.6 L879.4 997.5 L881.9 989.2 L884 997.5 L886.7 1020.4 L890.2 1061 L892.3 1001.7 L894.6 1002.7 L896.7 1000.6 L899.2 1009 L901.2 1003.8 L903.3 1019.4 L905.4 957.9 L907.5 980.8 L910.6 1005.8 L914.2 1026.7 L916.9 992.3 L919 1015.2 L920 1014 L921.2 993 L923.5 994.2 L926.5 986 L929.3 956.8 L931.7 986 L935.2 1010.5 L939.8 1016.8 L942.2 960.3 L944.5 998.8 L946.1 991.8 L949.2 1001.2 L952.7 974.3 L955 998.8 L957.3 986 L959.7 1035 L962 1029.2 L966 961.5 L968.3 1035 L970.2 1030.3 L972.5 1044.3 L974.8 1025.7 L977.2 1029.2 L979.5 1014 L983 988.3 L986 997.7 L988.8 994.2 L991.9 979.5 L994.7 1001.2 L999.3 1016.3 L1001 1060.7 L1003.3 1061.8 L1005.2 1033.8 L1007.5 1032.7 L1009.1 1003.5 L1011.5 1016.8 L1013.8 1017.5 L1018 986 L1020.8 1021 L1024.3 1072.8 L1026.2 1009.3 L1028.5 1044.3 L1030.8 1008.2 L1033.2 1037.3 L1036.7 1003.5 L1039.7 1001.2 L1042.5 1007 L1044.8 1008.2 L1046.5 992.5 L1050 1028 L1052.5 999.5 L1054.6 999.5 L1057.7 1021 L1060 1029.2 L1063.5 1052.5 L1065.1 1033.8 L1067.5 1046.7 L1070.5 1035 L1072.1 1043.2 L1075.9 1022.2 L1078.7 1006.5 L1080.5 1005.8 L1083.3 1032.7 L1086.1 1035.5 L1088.5 1031.5 L1090.3 1012.8 L1093.8 1002.3 L1096.6 1021 L1098.5 1021 L1100.1 1001.2 L1102.5 1049 L1104.3 1028 L1106.7 1037.3 L1110.9 1065.3 L1112.5 1046.7 L1114.8 1044.3 L1117.6 1015.2 L1120.7 1023.3 L1123 1035 L1124.9 1040.8 L1126.5 1060.2 L1128.8 1038.5 L1130.7 1035.5 L1132.8 1058.3 L1137 1038.5 L1139.3 1049 L1141.2 1047.8 L1143.3 1028 L1145.2 1063 L1148.2 1077 L1151.5 1056 L1154 1045.5 L1156.4 1048.5 L1158.7 1064.2 L1162.7 1057.2 L1164.5 1085.2 L1167.8 1087.5 L1169.7 1046.7 L1172 1022.2 L1174.3 1044.3 L1176.6 1068.8 L1179 1053.7 L1181.8 1014 L1183.6 1009.3 L1187.1 1004.2 L1188.8 922.5 L1190.2 930 L1191.3 942.8" fill="none" stroke="#434c57" stroke-width="3.7" stroke-linejoin="round" stroke-linecap="round"/>
<line x1="45.5" y1="776" x2="45.5" y2="1090" stroke="#434c57" stroke-width="2.5"/>
<line x1="41" y1="777.2" x2="45.5" y2="777.2" stroke="#434c57" stroke-width="2"/>
<text x="38.5" y="783.6" font-size="18" text-anchor="end" fill="#484848">8</text>
<line x1="41" y1="839.4" x2="45.5" y2="839.4" stroke="#434c57" stroke-width="2"/>
<text x="38.5" y="845.8" font-size="18" text-anchor="end" fill="#484848">6</text>
<line x1="41" y1="901.6" x2="45.5" y2="901.6" stroke="#434c57" stroke-width="2"/>
<text x="38.5" y="908" font-size="18" text-anchor="end" fill="#484848">4</text>
<line x1="41" y1="963.8" x2="45.5" y2="963.8" stroke="#434c57" stroke-width="2"/>
<text x="38.5" y="970.2" font-size="18" text-anchor="end" fill="#484848">2</text>
<line x1="41" y1="1026" x2="45.5" y2="1026" stroke="#434c57" stroke-width="2"/>
<text x="38.5" y="1032.4" font-size="18" text-anchor="end" fill="#484848">0</text>
<line x1="41" y1="1088.2" x2="45.5" y2="1088.2" stroke="#434c57" stroke-width="2"/>
<text x="38.5" y="1094.6" font-size="18" text-anchor="end" fill="#484848">-2</text>
<text transform="translate(14.8 936) rotate(-90)" font-size="18" text-anchor="middle" fill="#434c57" textLength="164" lengthAdjust="spacingAndGlyphs">MAAT anomaly (°C)</text>
<text x="50" y="55.5" font-size="42" font-weight="bold" fill="#484848">a</text>
<text x="50.5" y="786" font-size="42" font-weight="bold" fill="#484848">b</text>
<text x="52" y="1174" font-size="42" font-weight="bold" fill="#484848">c</text>
<path d="M96.7 1184.2 h14.6 l-7.3 12.4z" fill="#d9604c"/>
<path d="M100.7 1184.2 h14.6 l-7.3 12.4z" fill="#d9604c"/>
<path d="M104.7 1184.2 h14.6 l-7.3 12.4z" fill="#d9604c"/>
<path d="M108.7 1184.2 h14.6 l-7.3 12.4z" fill="#d9604c"/>
<path d="M112.7 1184.2 h14.6 l-7.3 12.4z" fill="#d9604c"/>
<path d="M116.7 1184.2 h14.6 l-7.3 12.4z" fill="#d9604c"/>
<path d="M120.7 1184.2 h14.6 l-7.3 12.4z" fill="#d9604c"/>
<path d="M128.7 1184.2 h14.6 l-7.3 12.4z" fill="#d9604c"/>
<path d="M151.2 1184.2 h14.6 l-7.3 12.4z" fill="#d9604c"/>
<path d="M172.7 1184.2 h14.6 l-7.3 12.4z" fill="#d9604c"/>
<path d="M194.7 1184.2 h14.6 l-7.3 12.4z" fill="#d9604c"/>
<path d="M260.2 1184.2 h14.6 l-7.3 12.4z" fill="#d9604c"/>
<path d="M302.2 1184.2 h14.6 l-7.3 12.4z" fill="#d9604c"/>
<path d="M322.2 1184.2 h14.6 l-7.3 12.4z" fill="#d9604c"/>
<path d="M341.2 1184.2 h14.6 l-7.3 12.4z" fill="#d9604c"/>
<path d="M379.7 1184.2 h14.6 l-7.3 12.4z" fill="#d9604c"/>
<path d="M418.2 1184.2 h14.6 l-7.3 12.4z" fill="#d9604c"/>
<path d="M440.2 1184.2 h14.6 l-7.3 12.4z" fill="#d9604c"/>
<path d="M462.2 1184.2 h14.6 l-7.3 12.4z" fill="#d9604c"/>
<path d="M484.7 1184.2 h14.6 l-7.3 12.4z" fill="#d9604c"/>
<path d="M506.7 1184.2 h14.6 l-7.3 12.4z" fill="#d9604c"/>
<path d="M551.2 1184.2 h14.6 l-7.3 12.4z" fill="#d9604c"/>
<path d="M595.7 1184.2 h14.6 l-7.3 12.4z" fill="#d9604c"/>
<path d="M618.2 1184.2 h14.6 l-7.3 12.4z" fill="#d9604c"/>
<path d="M640.7 1184.2 h14.6 l-7.3 12.4z" fill="#d9604c"/>
<path d="M663.2 1184.2 h14.6 l-7.3 12.4z" fill="#d9604c"/>
<path d="M685.7 1184.2 h14.6 l-7.3 12.4z" fill="#d9604c"/>
<path d="M707.7 1184.2 h14.6 l-7.3 12.4z" fill="#d9604c"/>
<path d="M728.7 1184.2 h14.6 l-7.3 12.4z" fill="#d9604c"/>
<path d="M751.7 1184.2 h14.6 l-7.3 12.4z" fill="#d9604c"/>
<path d="M776.2 1184.2 h14.6 l-7.3 12.4z" fill="#d9604c"/>
<path d="M800.7 1184.2 h14.6 l-7.3 12.4z" fill="#d9604c"/>
<path d="M822.7 1184.2 h14.6 l-7.3 12.4z" fill="#d9604c"/>
<path d="M837.7 1184.2 h14.6 l-7.3 12.4z" fill="#d9604c"/>
<path d="M854.7 1184.2 h14.6 l-7.3 12.4z" fill="#d9604c"/>
<path d="M871.2 1184.2 h14.6 l-7.3 12.4z" fill="#d9604c"/>
<path d="M888.2 1184.2 h14.6 l-7.3 12.4z" fill="#d9604c"/>
<path d="M904.7 1184.2 h14.6 l-7.3 12.4z" fill="#d9604c"/>
<path d="M921.7 1184.2 h14.6 l-7.3 12.4z" fill="#d9604c"/>
<path d="M966.2 1184.2 h14.6 l-7.3 12.4z" fill="#d9604c"/>
<path d="M990.2 1184.2 h14.6 l-7.3 12.4z" fill="#d9604c"/>
<path d="M1105.2 1184.2 h14.6 l-7.3 12.4z" fill="#d9604c"/>
<path d="M1164.7 1184.2 h14.6 l-7.3 12.4z" fill="#d9604c"/>
<path d="M98.2 1202.8 h11.6 l-5.8 10.2z" fill="none" stroke="#d9604c" stroke-width="1.6" stroke-linejoin="miter"/>
<path d="M102.2 1202.8 h11.6 l-5.8 10.2z" fill="none" stroke="#d9604c" stroke-width="1.6" stroke-linejoin="miter"/>
<path d="M106.2 1202.8 h11.6 l-5.8 10.2z" fill="none" stroke="#d9604c" stroke-width="1.6" stroke-linejoin="miter"/>
<path d="M110.2 1202.8 h11.6 l-5.8 10.2z" fill="none" stroke="#d9604c" stroke-width="1.6" stroke-linejoin="miter"/>
<path d="M114.2 1202.8 h11.6 l-5.8 10.2z" fill="none" stroke="#d9604c" stroke-width="1.6" stroke-linejoin="miter"/>
<path d="M118.2 1202.8 h11.6 l-5.8 10.2z" fill="none" stroke="#d9604c" stroke-width="1.6" stroke-linejoin="miter"/>
<path d="M122.2 1202.8 h11.6 l-5.8 10.2z" fill="none" stroke="#d9604c" stroke-width="1.6" stroke-linejoin="miter"/>
<path d="M130.2 1202.8 h11.6 l-5.8 10.2z" fill="none" stroke="#d9604c" stroke-width="1.6" stroke-linejoin="miter"/>
<path d="M196.2 1202.8 h11.6 l-5.8 10.2z" fill="none" stroke="#d9604c" stroke-width="1.6" stroke-linejoin="miter"/>
<path d="M261.7 1202.8 h11.6 l-5.8 10.2z" fill="none" stroke="#d9604c" stroke-width="1.6" stroke-linejoin="miter"/>
<path d="M323.7 1202.8 h11.6 l-5.8 10.2z" fill="none" stroke="#d9604c" stroke-width="1.6" stroke-linejoin="miter"/>
<path d="M381.2 1202.8 h11.6 l-5.8 10.2z" fill="none" stroke="#d9604c" stroke-width="1.6" stroke-linejoin="miter"/>
<path d="M441.7 1202.8 h11.6 l-5.8 10.2z" fill="none" stroke="#d9604c" stroke-width="1.6" stroke-linejoin="miter"/>
<path d="M508.2 1202.8 h11.6 l-5.8 10.2z" fill="none" stroke="#d9604c" stroke-width="1.6" stroke-linejoin="miter"/>
<path d="M552.7 1202.8 h11.6 l-5.8 10.2z" fill="none" stroke="#d9604c" stroke-width="1.6" stroke-linejoin="miter"/>
<path d="M597.2 1202.8 h11.6 l-5.8 10.2z" fill="none" stroke="#d9604c" stroke-width="1.6" stroke-linejoin="miter"/>
<path d="M642.2 1202.8 h11.6 l-5.8 10.2z" fill="none" stroke="#d9604c" stroke-width="1.6" stroke-linejoin="miter"/>
<path d="M709.2 1202.8 h11.6 l-5.8 10.2z" fill="none" stroke="#d9604c" stroke-width="1.6" stroke-linejoin="miter"/>
<path d="M777.7 1202.8 h11.6 l-5.8 10.2z" fill="none" stroke="#d9604c" stroke-width="1.6" stroke-linejoin="miter"/>
<path d="M839.2 1202.8 h11.6 l-5.8 10.2z" fill="none" stroke="#d9604c" stroke-width="1.6" stroke-linejoin="miter"/>
<path d="M889.7 1202.8 h11.6 l-5.8 10.2z" fill="none" stroke="#d9604c" stroke-width="1.6" stroke-linejoin="miter"/>
<path d="M991.7 1202.8 h11.6 l-5.8 10.2z" fill="none" stroke="#d9604c" stroke-width="1.6" stroke-linejoin="miter"/>
<path d="M1106.7 1202.8 h11.6 l-5.8 10.2z" fill="none" stroke="#d9604c" stroke-width="1.6" stroke-linejoin="miter"/>
<path d="M1166.2 1202.8 h11.6 l-5.8 10.2z" fill="none" stroke="#d9604c" stroke-width="1.6" stroke-linejoin="miter"/>
<path d="M381.7 1269.7 h14.6 l-7.3 12.4z" fill="#9b62b8"/>
<path d="M395.2 1269.7 h14.6 l-7.3 12.4z" fill="#9b62b8"/>
<path d="M406.7 1269.7 h14.6 l-7.3 12.4z" fill="#9b62b8"/>
<path d="M420.2 1269.7 h14.6 l-7.3 12.4z" fill="#9b62b8"/>
<path d="M443.2 1269.7 h14.6 l-7.3 12.4z" fill="#9b62b8"/>
<path d="M553.7 1269.7 h14.6 l-7.3 12.4z" fill="#9b62b8"/>
<path d="M760.7 1269.7 h14.6 l-7.3 12.4z" fill="#9b62b8"/>
<path d="M863.2 1269.7 h14.6 l-7.3 12.4z" fill="#9b62b8"/>
<path d="M973.7 1269.7 h14.6 l-7.3 12.4z" fill="#9b62b8"/>
<path d="M1077.2 1269.7 h14.6 l-7.3 12.4z" fill="#9b62b8"/>
<path d="M1184.7 1269.7 h14.6 l-7.3 12.4z" fill="#9b62b8"/>
<path d="M762.2 1288.3 h11.6 l-5.8 10.2z" fill="none" stroke="#9b62b8" stroke-width="1.6" stroke-linejoin="miter"/>
<path d="M864.7 1288.3 h11.6 l-5.8 10.2z" fill="none" stroke="#9b62b8" stroke-width="1.6" stroke-linejoin="miter"/>
<path d="M975.2 1288.3 h11.6 l-5.8 10.2z" fill="none" stroke="#9b62b8" stroke-width="1.6" stroke-linejoin="miter"/>
<path d="M1078.7 1288.3 h11.6 l-5.8 10.2z" fill="none" stroke="#9b62b8" stroke-width="1.6" stroke-linejoin="miter"/>
<path d="M1186.2 1288.3 h11.6 l-5.8 10.2z" fill="none" stroke="#9b62b8" stroke-width="1.6" stroke-linejoin="miter"/>
<path d="M177.2 1354.7 h14.6 l-7.3 12.4z" fill="#3690c8"/>
<path d="M193.2 1354.7 h14.6 l-7.3 12.4z" fill="#3690c8"/>
<path d="M225.7 1354.7 h14.6 l-7.3 12.4z" fill="#3690c8"/>
<path d="M242.7 1354.7 h14.6 l-7.3 12.4z" fill="#3690c8"/>
<path d="M259.2 1354.7 h14.6 l-7.3 12.4z" fill="#3690c8"/>
<path d="M291.7 1354.7 h14.6 l-7.3 12.4z" fill="#3690c8"/>
<path d="M308.2 1354.7 h14.6 l-7.3 12.4z" fill="#3690c8"/>
<path d="M325.2 1354.7 h14.6 l-7.3 12.4z" fill="#3690c8"/>
<path d="M336.7 1354.7 h14.6 l-7.3 12.4z" fill="#3690c8"/>
<path d="M342.7 1354.7 h14.6 l-7.3 12.4z" fill="#3690c8"/>
<path d="M356.2 1354.7 h14.6 l-7.3 12.4z" fill="#3690c8"/>
<path d="M394.2 1354.7 h14.6 l-7.3 12.4z" fill="#3690c8"/>
<path d="M452.7 1354.7 h14.6 l-7.3 12.4z" fill="#3690c8"/>
<path d="M501.7 1354.7 h14.6 l-7.3 12.4z" fill="#3690c8"/>
<path d="M523.7 1354.7 h14.6 l-7.3 12.4z" fill="#3690c8"/>
<path d="M535.2 1354.7 h14.6 l-7.3 12.4z" fill="#3690c8"/>
<path d="M567.7 1354.7 h14.6 l-7.3 12.4z" fill="#3690c8"/>
<path d="M590.2 1354.7 h14.6 l-7.3 12.4z" fill="#3690c8"/>
<path d="M620.2 1354.7 h14.6 l-7.3 12.4z" fill="#3690c8"/>
<path d="M726.2 1354.7 h14.6 l-7.3 12.4z" fill="#3690c8"/>
<path d="M756.2 1354.7 h14.6 l-7.3 12.4z" fill="#3690c8"/>
<path d="M880.7 1354.7 h14.6 l-7.3 12.4z" fill="#3690c8"/>
<path d="M1026.2 1354.7 h14.6 l-7.3 12.4z" fill="#3690c8"/>
<path d="M1172.2 1354.7 h14.6 l-7.3 12.4z" fill="#3690c8"/>
<path d="M536.2 1373.3 h11.6 l-5.8 10.2z" fill="none" stroke="#3690c8" stroke-width="1.6" stroke-linejoin="miter"/>
<path d="M569.2 1373.3 h11.6 l-5.8 10.2z" fill="none" stroke="#3690c8" stroke-width="1.6" stroke-linejoin="miter"/>
<path d="M621.7 1373.3 h11.6 l-5.8 10.2z" fill="none" stroke="#3690c8" stroke-width="1.6" stroke-linejoin="miter"/>
<path d="M757.7 1373.3 h11.6 l-5.8 10.2z" fill="none" stroke="#3690c8" stroke-width="1.6" stroke-linejoin="miter"/>
<path d="M1173.7 1373.3 h11.6 l-5.8 10.2z" fill="none" stroke="#3690c8" stroke-width="1.6" stroke-linejoin="miter"/>
<path d="M361.2 1440.7 h14.6 l-7.3 12.4z" fill="#4fa651"/>
<path d="M386.2 1440.7 h14.6 l-7.3 12.4z" fill="#4fa651"/>
<path d="M399.7 1440.7 h14.6 l-7.3 12.4z" fill="#4fa651"/>
<path d="M413.7 1440.7 h14.6 l-7.3 12.4z" fill="#4fa651"/>
<path d="M427.7 1440.7 h14.6 l-7.3 12.4z" fill="#4fa651"/>
<path d="M441.7 1440.7 h14.6 l-7.3 12.4z" fill="#4fa651"/>
<path d="M458.2 1440.7 h14.6 l-7.3 12.4z" fill="#4fa651"/>
<path d="M472.2 1440.7 h14.6 l-7.3 12.4z" fill="#4fa651"/>
<path d="M485.7 1440.7 h14.6 l-7.3 12.4z" fill="#4fa651"/>
<path d="M497.7 1440.7 h14.6 l-7.3 12.4z" fill="#4fa651"/>
<path d="M504.7 1440.7 h14.6 l-7.3 12.4z" fill="#4fa651"/>
<path d="M512.7 1440.7 h14.6 l-7.3 12.4z" fill="#4fa651"/>
<path d="M530.2 1440.7 h14.6 l-7.3 12.4z" fill="#4fa651"/>
<path d="M540.2 1440.7 h14.6 l-7.3 12.4z" fill="#4fa651"/>
<path d="M550.2 1440.7 h14.6 l-7.3 12.4z" fill="#4fa651"/>
<path d="M560.2 1440.7 h14.6 l-7.3 12.4z" fill="#4fa651"/>
<path d="M567.7 1440.7 h14.6 l-7.3 12.4z" fill="#4fa651"/>
<path d="M577.7 1440.7 h14.6 l-7.3 12.4z" fill="#4fa651"/>
<path d="M587.7 1440.7 h14.6 l-7.3 12.4z" fill="#4fa651"/>
<path d="M602.7 1440.7 h14.6 l-7.3 12.4z" fill="#4fa651"/>
<path d="M615.2 1440.7 h14.6 l-7.3 12.4z" fill="#4fa651"/>
<path d="M627.7 1440.7 h14.6 l-7.3 12.4z" fill="#4fa651"/>
<path d="M647.7 1440.7 h14.6 l-7.3 12.4z" fill="#4fa651"/>
<path d="M655.2 1440.7 h14.6 l-7.3 12.4z" fill="#4fa651"/>
<path d="M660.2 1440.7 h14.6 l-7.3 12.4z" fill="#4fa651"/>
<path d="M691.2 1440.7 h14.6 l-7.3 12.4z" fill="#4fa651"/>
<path d="M697.7 1440.7 h14.6 l-7.3 12.4z" fill="#4fa651"/>
<path d="M705.2 1440.7 h14.6 l-7.3 12.4z" fill="#4fa651"/>
<path d="M726.2 1440.7 h14.6 l-7.3 12.4z" fill="#4fa651"/>
<path d="M791.7 1440.7 h14.6 l-7.3 12.4z" fill="#4fa651"/>
<path d="M812.7 1440.7 h14.6 l-7.3 12.4z" fill="#4fa651"/>
<path d="M834.2 1440.7 h14.6 l-7.3 12.4z" fill="#4fa651"/>
<path d="M845.2 1440.7 h14.6 l-7.3 12.4z" fill="#4fa651"/>
<path d="M852.7 1440.7 h14.6 l-7.3 12.4z" fill="#4fa651"/>
<path d="M860.2 1440.7 h14.6 l-7.3 12.4z" fill="#4fa651"/>
<path d="M867.7 1440.7 h14.6 l-7.3 12.4z" fill="#4fa651"/>
<path d="M876.7 1440.7 h14.6 l-7.3 12.4z" fill="#4fa651"/>
<path d="M892.7 1440.7 h14.6 l-7.3 12.4z" fill="#4fa651"/>
<path d="M900.2 1440.7 h14.6 l-7.3 12.4z" fill="#4fa651"/>
<path d="M911.2 1440.7 h14.6 l-7.3 12.4z" fill="#4fa651"/>
<path d="M925.2 1440.7 h14.6 l-7.3 12.4z" fill="#4fa651"/>
<path d="M934.2 1440.7 h14.6 l-7.3 12.4z" fill="#4fa651"/>
<path d="M955.2 1440.7 h14.6 l-7.3 12.4z" fill="#4fa651"/>
<path d="M966.2 1440.7 h14.6 l-7.3 12.4z" fill="#4fa651"/>
<path d="M976.7 1440.7 h14.6 l-7.3 12.4z" fill="#4fa651"/>
<path d="M987.7 1440.7 h14.6 l-7.3 12.4z" fill="#4fa651"/>
<path d="M997.7 1440.7 h14.6 l-7.3 12.4z" fill="#4fa651"/>
<path d="M1017.7 1440.7 h14.6 l-7.3 12.4z" fill="#4fa651"/>
<path d="M1030.2 1440.7 h14.6 l-7.3 12.4z" fill="#4fa651"/>
<path d="M1050.2 1440.7 h14.6 l-7.3 12.4z" fill="#4fa651"/>
<path d="M1071.2 1440.7 h14.6 l-7.3 12.4z" fill="#4fa651"/>
<path d="M1082.7 1440.7 h14.6 l-7.3 12.4z" fill="#4fa651"/>
<path d="M1092.7 1440.7 h14.6 l-7.3 12.4z" fill="#4fa651"/>
<path d="M1112.7 1440.7 h14.6 l-7.3 12.4z" fill="#4fa651"/>
<path d="M1120.2 1440.7 h14.6 l-7.3 12.4z" fill="#4fa651"/>
<path d="M1125.2 1440.7 h14.6 l-7.3 12.4z" fill="#4fa651"/>
<path d="M1131.7 1440.7 h14.6 l-7.3 12.4z" fill="#4fa651"/>
<path d="M1137.7 1440.7 h14.6 l-7.3 12.4z" fill="#4fa651"/>
<path d="M1143.7 1440.7 h14.6 l-7.3 12.4z" fill="#4fa651"/>
<path d="M1158.7 1440.7 h14.6 l-7.3 12.4z" fill="#4fa651"/>
<path d="M388.7 1459.3 h11.6 l-5.8 10.2z" fill="none" stroke="#4fa651" stroke-width="1.6" stroke-linejoin="miter"/>
<path d="M429.7 1459.3 h11.6 l-5.8 10.2z" fill="none" stroke="#4fa651" stroke-width="1.6" stroke-linejoin="miter"/>
<path d="M459.7 1459.3 h11.6 l-5.8 10.2z" fill="none" stroke="#4fa651" stroke-width="1.6" stroke-linejoin="miter"/>
<path d="M501.2 1459.3 h11.6 l-5.8 10.2z" fill="none" stroke="#4fa651" stroke-width="1.6" stroke-linejoin="miter"/>
<path d="M539.7 1459.3 h11.6 l-5.8 10.2z" fill="none" stroke="#4fa651" stroke-width="1.6" stroke-linejoin="miter"/>
<path d="M584.2 1459.3 h11.6 l-5.8 10.2z" fill="none" stroke="#4fa651" stroke-width="1.6" stroke-linejoin="miter"/>
<path d="M616.7 1459.3 h11.6 l-5.8 10.2z" fill="none" stroke="#4fa651" stroke-width="1.6" stroke-linejoin="miter"/>
<path d="M660.7 1459.3 h11.6 l-5.8 10.2z" fill="none" stroke="#4fa651" stroke-width="1.6" stroke-linejoin="miter"/>
<path d="M693.2 1459.3 h11.6 l-5.8 10.2z" fill="none" stroke="#4fa651" stroke-width="1.6" stroke-linejoin="miter"/>
<path d="M727.7 1459.3 h11.6 l-5.8 10.2z" fill="none" stroke="#4fa651" stroke-width="1.6" stroke-linejoin="miter"/>
<path d="M814.2 1459.3 h11.6 l-5.8 10.2z" fill="none" stroke="#4fa651" stroke-width="1.6" stroke-linejoin="miter"/>
<path d="M857.7 1459.3 h11.6 l-5.8 10.2z" fill="none" stroke="#4fa651" stroke-width="1.6" stroke-linejoin="miter"/>
<path d="M872.7 1459.3 h11.6 l-5.8 10.2z" fill="none" stroke="#4fa651" stroke-width="1.6" stroke-linejoin="miter"/>
<path d="M894.2 1459.3 h11.6 l-5.8 10.2z" fill="none" stroke="#4fa651" stroke-width="1.6" stroke-linejoin="miter"/>
<path d="M914.2 1459.3 h11.6 l-5.8 10.2z" fill="none" stroke="#4fa651" stroke-width="1.6" stroke-linejoin="miter"/>
<path d="M966.7 1459.3 h11.6 l-5.8 10.2z" fill="none" stroke="#4fa651" stroke-width="1.6" stroke-linejoin="miter"/>
<path d="M1019.7 1459.3 h11.6 l-5.8 10.2z" fill="none" stroke="#4fa651" stroke-width="1.6" stroke-linejoin="miter"/>
<path d="M1073.2 1459.3 h11.6 l-5.8 10.2z" fill="none" stroke="#4fa651" stroke-width="1.6" stroke-linejoin="miter"/>
<path d="M1115.7 1459.3 h11.6 l-5.8 10.2z" fill="none" stroke="#4fa651" stroke-width="1.6" stroke-linejoin="miter"/>
<path d="M1129.2 1459.3 h11.6 l-5.8 10.2z" fill="none" stroke="#4fa651" stroke-width="1.6" stroke-linejoin="miter"/>
<path d="M1141.7 1459.3 h11.6 l-5.8 10.2z" fill="none" stroke="#4fa651" stroke-width="1.6" stroke-linejoin="miter"/>
<path d="M1160.2 1459.3 h11.6 l-5.8 10.2z" fill="none" stroke="#4fa651" stroke-width="1.6" stroke-linejoin="miter"/>
<circle cx="106" cy="1167" r="7.4" fill="#fff" stroke="#d9604c" stroke-width="4.5"/>
<text x="123" y="1175" font-size="20" fill="#484848" textLength="151" lengthAdjust="spacingAndGlyphs">Melville Bay 26G</text>
<circle cx="369" cy="1258" r="7.4" fill="#fff" stroke="#9b62b8" stroke-width="4.5"/>
<text x="386" y="1266" font-size="20" fill="#484848" textLength="141" lengthAdjust="spacingAndGlyphs">Hall Basin 24PC</text>
<circle cx="185" cy="1341" r="7.4" fill="#fff" stroke="#3690c8" stroke-width="4.5"/>
<text x="202" y="1349" font-size="20" fill="#484848" textLength="163" lengthAdjust="spacingAndGlyphs">Lincoln Sea 12-GC</text>
<circle cx="369" cy="1427" r="7.4" fill="#fff" stroke="#4fa651" stroke-width="4.5"/>
<text x="386" y="1435" font-size="20" fill="#484848" textLength="241" lengthAdjust="spacingAndGlyphs">North-East Greenland 73G</text>
<path d="M99 1488 H1192.5" stroke="#434c57" stroke-width="2.5" fill="none"/>
<path d="M171 1493.5 l5 -11 M177 1493.5 l5 -11" stroke="#434c57" stroke-width="1.6" fill="none"/>
<line x1="1191.5" y1="1488" x2="1191.5" y2="1493.5" stroke="#434c57" stroke-width="2.6"/>
<text x="1191" y="1511.5" font-size="18" text-anchor="middle" fill="#484848">0</text>
<line x1="1104.8" y1="1488" x2="1104.8" y2="1493.5" stroke="#434c57" stroke-width="2.6"/>
<text x="1104.3" y="1511.5" font-size="18" text-anchor="middle" fill="#484848">1</text>
<line x1="1018.1" y1="1488" x2="1018.1" y2="1493.5" stroke="#434c57" stroke-width="2.6"/>
<text x="1017.6" y="1511.5" font-size="18" text-anchor="middle" fill="#484848">2</text>
<line x1="931.5" y1="1488" x2="931.5" y2="1493.5" stroke="#434c57" stroke-width="2.6"/>
<text x="931" y="1511.5" font-size="18" text-anchor="middle" fill="#484848">3</text>
<line x1="844.8" y1="1488" x2="844.8" y2="1493.5" stroke="#434c57" stroke-width="2.6"/>
<text x="844.3" y="1511.5" font-size="18" text-anchor="middle" fill="#484848">4</text>
<line x1="758.1" y1="1488" x2="758.1" y2="1493.5" stroke="#434c57" stroke-width="2.6"/>
<text x="757.6" y="1511.5" font-size="18" text-anchor="middle" fill="#484848">5</text>
<line x1="671.4" y1="1488" x2="671.4" y2="1493.5" stroke="#434c57" stroke-width="2.6"/>
<text x="670.9" y="1511.5" font-size="18" text-anchor="middle" fill="#484848">6</text>
<line x1="584.7" y1="1488" x2="584.7" y2="1493.5" stroke="#434c57" stroke-width="2.6"/>
<text x="584.2" y="1511.5" font-size="18" text-anchor="middle" fill="#484848">7</text>
<line x1="498.1" y1="1488" x2="498.1" y2="1493.5" stroke="#434c57" stroke-width="2.6"/>
<text x="497.6" y="1511.5" font-size="18" text-anchor="middle" fill="#484848">8</text>
<line x1="411.4" y1="1488" x2="411.4" y2="1493.5" stroke="#434c57" stroke-width="2.6"/>
<text x="410.9" y="1511.5" font-size="18" text-anchor="middle" fill="#484848">9</text>
<line x1="324.7" y1="1488" x2="324.7" y2="1493.5" stroke="#434c57" stroke-width="2.6"/>
<text x="324.2" y="1511.5" font-size="18" text-anchor="middle" fill="#484848" textLength="18" lengthAdjust="spacingAndGlyphs">10</text>
<line x1="238" y1="1488" x2="238" y2="1493.5" stroke="#434c57" stroke-width="2.6"/>
<text x="237.5" y="1511.5" font-size="18" text-anchor="middle" fill="#484848" textLength="18" lengthAdjust="spacingAndGlyphs">11</text>
<text x="172" y="1511.5" font-size="18" text-anchor="middle" fill="#484848" textLength="31" lengthAdjust="spacingAndGlyphs">11.6</text>
<text x="171" y="1531" font-size="18" text-anchor="middle" fill="#484848" textLength="34" lengthAdjust="spacingAndGlyphs">±0.3</text>
<text x="636.7" y="1535.3" font-size="18.5" text-anchor="middle" fill="#484848" textLength="131.5" lengthAdjust="spacingAndGlyphs">Age (cal ka BP)</text>
</svg></body></html>
